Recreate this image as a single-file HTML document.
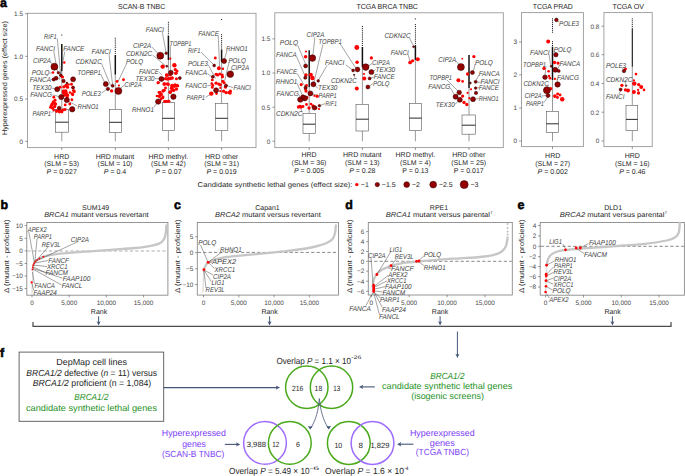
<!DOCTYPE html>
<html><head><meta charset="utf-8"><title>Figure</title>
<style>html,body{margin:0;padding:0;background:#fff;width:685px;height:476px;overflow:hidden}
svg{display:block}text{font-family:"Liberation Sans",sans-serif;text-rendering:geometricPrecision}</style></head>
<body><svg width="685" height="476" viewBox="0 0 685 476">
<rect width="685" height="476" fill="#fff"/>
<g fill="#262626">
<text x="0" y="6.66" font-size="12.4" font-weight="bold" fill="#000" stroke="#000" stroke-width="0.55">a</text>
<text transform="translate(6.8,78.1) rotate(-90)" x="0" y="0" font-size="7" text-anchor="middle" fill="#262626" textLength="114" lengthAdjust="spacingAndGlyphs">Hyperexpressed genes (effect size)</text>
<rect x="27.5" y="13.3" width="228.5" height="134.3" fill="none" stroke="#9a9a9a" stroke-width="0.9"/>
<rect x="274.8" y="12.8" width="228.5" height="134.8" fill="none" stroke="#9a9a9a" stroke-width="0.9"/>
<rect x="521.5" y="12.6" width="61.9" height="134" fill="none" stroke="#9a9a9a" stroke-width="0.9"/>
<rect x="603.9" y="12.6" width="48.3" height="134" fill="none" stroke="#9a9a9a" stroke-width="0.9"/>
<text x="118" y="9.29" font-size="7.2" textLength="47.2" lengthAdjust="spacingAndGlyphs">SCAN-B TNBC</text>
<text x="356.4" y="8.59" font-size="7.2" textLength="61.6" lengthAdjust="spacingAndGlyphs">TCGA BRCA TNBC</text>
<text x="532.7" y="8.59" font-size="7.2" textLength="40.2" lengthAdjust="spacingAndGlyphs">TCGA PRAD</text>
<text x="612.4" y="8.79" font-size="7.2" textLength="31.5" lengthAdjust="spacingAndGlyphs">TCGA OV</text>
<line x1="25.1" y1="141.3" x2="27.5" y2="141.3" stroke="#555" stroke-width="0.6"/>
<text x="23" y="143.6" font-size="6.4" text-anchor="end" fill="#4a4a4a">0</text>
<line x1="25.1" y1="99" x2="27.5" y2="99" stroke="#555" stroke-width="0.6"/>
<text x="23" y="101.3" font-size="6.4" text-anchor="end" fill="#4a4a4a">0.5</text>
<line x1="25.1" y1="56.3" x2="27.5" y2="56.3" stroke="#555" stroke-width="0.6"/>
<text x="23" y="58.6" font-size="6.4" text-anchor="end" fill="#4a4a4a">1.0</text>
<line x1="25.1" y1="13.7" x2="27.5" y2="13.7" stroke="#555" stroke-width="0.6"/>
<text x="23" y="16" font-size="6.4" text-anchor="end" fill="#4a4a4a">1.5</text>
<line x1="272.4" y1="141.2" x2="274.8" y2="141.2" stroke="#555" stroke-width="0.6"/>
<text x="270.3" y="143.5" font-size="6.4" text-anchor="end" fill="#4a4a4a">0</text>
<line x1="272.4" y1="107.2" x2="274.8" y2="107.2" stroke="#555" stroke-width="0.6"/>
<text x="270.3" y="109.5" font-size="6.4" text-anchor="end" fill="#4a4a4a">0.5</text>
<line x1="272.4" y1="73" x2="274.8" y2="73" stroke="#555" stroke-width="0.6"/>
<text x="270.3" y="75.3" font-size="6.4" text-anchor="end" fill="#4a4a4a">1.0</text>
<line x1="272.4" y1="38.9" x2="274.8" y2="38.9" stroke="#555" stroke-width="0.6"/>
<text x="270.3" y="41.2" font-size="6.4" text-anchor="end" fill="#4a4a4a">1.5</text>
<line x1="519.1" y1="141" x2="521.5" y2="141" stroke="#555" stroke-width="0.6"/>
<text x="517" y="143.3" font-size="6.4" text-anchor="end" fill="#4a4a4a">0</text>
<line x1="519.1" y1="108" x2="521.5" y2="108" stroke="#555" stroke-width="0.6"/>
<text x="517" y="110.3" font-size="6.4" text-anchor="end" fill="#4a4a4a">1</text>
<line x1="519.1" y1="74.8" x2="521.5" y2="74.8" stroke="#555" stroke-width="0.6"/>
<text x="517" y="77.1" font-size="6.4" text-anchor="end" fill="#4a4a4a">2</text>
<line x1="519.1" y1="42" x2="521.5" y2="42" stroke="#555" stroke-width="0.6"/>
<text x="517" y="44.3" font-size="6.4" text-anchor="end" fill="#4a4a4a">3</text>
<line x1="601.5" y1="141" x2="603.9" y2="141" stroke="#555" stroke-width="0.6"/>
<text x="599.4" y="143.3" font-size="6.4" text-anchor="end" fill="#4a4a4a">0</text>
<line x1="601.5" y1="112.2" x2="603.9" y2="112.2" stroke="#555" stroke-width="0.6"/>
<text x="599.4" y="114.5" font-size="6.4" text-anchor="end" fill="#4a4a4a">0.2</text>
<line x1="601.5" y1="83.5" x2="603.9" y2="83.5" stroke="#555" stroke-width="0.6"/>
<text x="599.4" y="85.8" font-size="6.4" text-anchor="end" fill="#4a4a4a">0.4</text>
<line x1="601.5" y1="54.7" x2="603.9" y2="54.7" stroke="#555" stroke-width="0.6"/>
<text x="599.4" y="57" font-size="6.4" text-anchor="end" fill="#4a4a4a">0.6</text>
<line x1="601.5" y1="26.2" x2="603.9" y2="26.2" stroke="#555" stroke-width="0.6"/>
<text x="599.4" y="28.5" font-size="6.4" text-anchor="end" fill="#4a4a4a">0.8</text>
<line x1="61.8" y1="147.6" x2="61.8" y2="150" stroke="#555" stroke-width="0.6"/>
<line x1="115.3" y1="147.6" x2="115.3" y2="150" stroke="#555" stroke-width="0.6"/>
<line x1="168.4" y1="147.6" x2="168.4" y2="150" stroke="#555" stroke-width="0.6"/>
<line x1="221.6" y1="147.6" x2="221.6" y2="150" stroke="#555" stroke-width="0.6"/>
<line x1="309.2" y1="147.6" x2="309.2" y2="150" stroke="#555" stroke-width="0.6"/>
<line x1="362.4" y1="147.6" x2="362.4" y2="150" stroke="#555" stroke-width="0.6"/>
<line x1="415.4" y1="147.6" x2="415.4" y2="150" stroke="#555" stroke-width="0.6"/>
<line x1="469" y1="147.6" x2="469" y2="150" stroke="#555" stroke-width="0.6"/>
<line x1="552.5" y1="146.6" x2="552.5" y2="149" stroke="#555" stroke-width="0.6"/>
<line x1="632.3" y1="146.6" x2="632.3" y2="149" stroke="#555" stroke-width="0.6"/>
<line x1="61.8" y1="132.2" x2="61.8" y2="141.3" stroke="#555" stroke-width="0.6"/>
<line x1="61.8" y1="71" x2="61.8" y2="109.5" stroke="#555" stroke-width="0.6"/>
<line x1="61.8" y1="44" x2="61.8" y2="71" stroke="#111" stroke-width="1.5"/>
<line x1="61.8" y1="34.6" x2="61.8" y2="35.6" stroke="#111" stroke-width="1"/>
<rect x="55.3" y="109.5" width="13.1" height="22.7" fill="#fff" stroke="#555" stroke-width="0.6"/>
<line x1="55.3" y1="122.2" x2="68.4" y2="122.2" stroke="#111" stroke-width="0.9"/>
<line x1="115.3" y1="132.3" x2="115.3" y2="141.3" stroke="#555" stroke-width="0.6"/>
<line x1="115.3" y1="74.6" x2="115.3" y2="109.4" stroke="#555" stroke-width="0.6"/>
<line x1="115.3" y1="55" x2="115.3" y2="74.6" stroke="#111" stroke-width="1.5"/>
<line x1="115.3" y1="37.7" x2="115.3" y2="38.7" stroke="#111" stroke-width="1"/>
<line x1="115.3" y1="39.6" x2="115.3" y2="40.6" stroke="#111" stroke-width="1"/>
<line x1="115.3" y1="41.5" x2="115.3" y2="42.5" stroke="#111" stroke-width="1"/>
<line x1="115.3" y1="43.4" x2="115.3" y2="44.4" stroke="#111" stroke-width="1"/>
<line x1="115.3" y1="45.3" x2="115.3" y2="46.3" stroke="#111" stroke-width="1"/>
<line x1="115.3" y1="47.2" x2="115.3" y2="48.2" stroke="#111" stroke-width="1"/>
<line x1="115.3" y1="49.1" x2="115.3" y2="50.1" stroke="#111" stroke-width="1"/>
<line x1="115.3" y1="51" x2="115.3" y2="52" stroke="#111" stroke-width="1"/>
<line x1="115.3" y1="52.9" x2="115.3" y2="53.9" stroke="#111" stroke-width="1"/>
<rect x="109.3" y="109.4" width="12.3" height="22.9" fill="#fff" stroke="#555" stroke-width="0.6"/>
<line x1="109.3" y1="122.3" x2="121.6" y2="122.3" stroke="#111" stroke-width="0.9"/>
<line x1="168.4" y1="130.5" x2="168.4" y2="141.3" stroke="#555" stroke-width="0.6"/>
<line x1="168.4" y1="60" x2="168.4" y2="102.3" stroke="#555" stroke-width="0.6"/>
<line x1="168.4" y1="35.5" x2="168.4" y2="60" stroke="#111" stroke-width="1.5"/>
<line x1="168.4" y1="21.8" x2="168.4" y2="22.8" stroke="#111" stroke-width="1"/>
<line x1="168.4" y1="23.7" x2="168.4" y2="24.7" stroke="#111" stroke-width="1"/>
<line x1="168.4" y1="25.6" x2="168.4" y2="26.6" stroke="#111" stroke-width="1"/>
<line x1="168.4" y1="27.5" x2="168.4" y2="28.5" stroke="#111" stroke-width="1"/>
<line x1="168.4" y1="29.4" x2="168.4" y2="30.4" stroke="#111" stroke-width="1"/>
<line x1="168.4" y1="31.3" x2="168.4" y2="32.3" stroke="#111" stroke-width="1"/>
<line x1="168.4" y1="33.2" x2="168.4" y2="34.2" stroke="#111" stroke-width="1"/>
<rect x="162.3" y="102.3" width="12.1" height="28.2" fill="#fff" stroke="#555" stroke-width="0.6"/>
<line x1="162.3" y1="118.3" x2="174.4" y2="118.3" stroke="#111" stroke-width="0.9"/>
<line x1="221.6" y1="130.5" x2="221.6" y2="141.3" stroke="#555" stroke-width="0.6"/>
<line x1="221.6" y1="62" x2="221.6" y2="103.4" stroke="#555" stroke-width="0.6"/>
<line x1="221.6" y1="49.4" x2="221.6" y2="62" stroke="#111" stroke-width="1.5"/>
<line x1="221.6" y1="19" x2="221.6" y2="20" stroke="#111" stroke-width="1"/>
<line x1="221.6" y1="34.2" x2="221.6" y2="35.2" stroke="#111" stroke-width="1"/>
<line x1="221.6" y1="36.1" x2="221.6" y2="37.1" stroke="#111" stroke-width="1"/>
<line x1="221.6" y1="38" x2="221.6" y2="39" stroke="#111" stroke-width="1"/>
<line x1="221.6" y1="39.9" x2="221.6" y2="40.9" stroke="#111" stroke-width="1"/>
<line x1="221.6" y1="41.8" x2="221.6" y2="42.8" stroke="#111" stroke-width="1"/>
<line x1="221.6" y1="43.7" x2="221.6" y2="44.7" stroke="#111" stroke-width="1"/>
<line x1="221.6" y1="45.6" x2="221.6" y2="46.6" stroke="#111" stroke-width="1"/>
<line x1="221.6" y1="47.5" x2="221.6" y2="48.5" stroke="#111" stroke-width="1"/>
<rect x="215.5" y="103.4" width="12.3" height="27.1" fill="#fff" stroke="#555" stroke-width="0.6"/>
<line x1="215.5" y1="118.3" x2="227.8" y2="118.3" stroke="#111" stroke-width="0.9"/>
<line x1="309.2" y1="133.4" x2="309.2" y2="141.3" stroke="#555" stroke-width="0.6"/>
<line x1="309.2" y1="87" x2="309.2" y2="113.3" stroke="#555" stroke-width="0.6"/>
<line x1="309.2" y1="50.3" x2="309.2" y2="87" stroke="#111" stroke-width="1.5"/>
<rect x="303" y="113.3" width="12.3" height="20.1" fill="#fff" stroke="#555" stroke-width="0.6"/>
<line x1="303" y1="124.2" x2="315.3" y2="124.2" stroke="#111" stroke-width="0.9"/>
<line x1="362.4" y1="131" x2="362.4" y2="141.3" stroke="#555" stroke-width="0.6"/>
<line x1="362.4" y1="67" x2="362.4" y2="104.5" stroke="#555" stroke-width="0.6"/>
<line x1="362.4" y1="47" x2="362.4" y2="67" stroke="#111" stroke-width="1.5"/>
<line x1="362.4" y1="26" x2="362.4" y2="27" stroke="#111" stroke-width="1"/>
<line x1="362.4" y1="27.9" x2="362.4" y2="28.9" stroke="#111" stroke-width="1"/>
<line x1="362.4" y1="29.8" x2="362.4" y2="30.8" stroke="#111" stroke-width="1"/>
<line x1="362.4" y1="31.7" x2="362.4" y2="32.7" stroke="#111" stroke-width="1"/>
<line x1="362.4" y1="33.6" x2="362.4" y2="34.6" stroke="#111" stroke-width="1"/>
<line x1="362.4" y1="35.5" x2="362.4" y2="36.5" stroke="#111" stroke-width="1"/>
<line x1="362.4" y1="37.4" x2="362.4" y2="38.4" stroke="#111" stroke-width="1"/>
<line x1="362.4" y1="39.3" x2="362.4" y2="40.3" stroke="#111" stroke-width="1"/>
<line x1="362.4" y1="41.2" x2="362.4" y2="42.2" stroke="#111" stroke-width="1"/>
<line x1="362.4" y1="43.1" x2="362.4" y2="44.1" stroke="#111" stroke-width="1"/>
<line x1="362.4" y1="45" x2="362.4" y2="46" stroke="#111" stroke-width="1"/>
<rect x="356" y="104.5" width="12.6" height="26.5" fill="#fff" stroke="#555" stroke-width="0.6"/>
<line x1="356" y1="119.2" x2="368.6" y2="119.2" stroke="#111" stroke-width="0.9"/>
<line x1="415.4" y1="130.5" x2="415.4" y2="141.3" stroke="#555" stroke-width="0.6"/>
<line x1="415.4" y1="60" x2="415.4" y2="103.4" stroke="#555" stroke-width="0.6"/>
<line x1="415.4" y1="45.7" x2="415.4" y2="60" stroke="#111" stroke-width="1.5"/>
<line x1="415.4" y1="18.4" x2="415.4" y2="19.4" stroke="#111" stroke-width="1"/>
<line x1="415.4" y1="24.1" x2="415.4" y2="25.1" stroke="#111" stroke-width="1"/>
<line x1="415.4" y1="26" x2="415.4" y2="27" stroke="#111" stroke-width="1"/>
<line x1="415.4" y1="27.9" x2="415.4" y2="28.9" stroke="#111" stroke-width="1"/>
<line x1="415.4" y1="29.8" x2="415.4" y2="30.8" stroke="#111" stroke-width="1"/>
<line x1="415.4" y1="31.7" x2="415.4" y2="32.7" stroke="#111" stroke-width="1"/>
<line x1="415.4" y1="33.6" x2="415.4" y2="34.6" stroke="#111" stroke-width="1"/>
<line x1="415.4" y1="35.5" x2="415.4" y2="36.5" stroke="#111" stroke-width="1"/>
<line x1="415.4" y1="37.4" x2="415.4" y2="38.4" stroke="#111" stroke-width="1"/>
<line x1="415.4" y1="39.3" x2="415.4" y2="40.3" stroke="#111" stroke-width="1"/>
<line x1="415.4" y1="41.2" x2="415.4" y2="42.2" stroke="#111" stroke-width="1"/>
<line x1="415.4" y1="43.1" x2="415.4" y2="44.1" stroke="#111" stroke-width="1"/>
<line x1="415.4" y1="45" x2="415.4" y2="46" stroke="#111" stroke-width="1"/>
<rect x="409.3" y="103.4" width="12.4" height="27.1" fill="#fff" stroke="#555" stroke-width="0.6"/>
<line x1="409.3" y1="118.1" x2="421.7" y2="118.1" stroke="#111" stroke-width="0.9"/>
<line x1="469" y1="134.2" x2="469" y2="141.3" stroke="#555" stroke-width="0.6"/>
<line x1="469" y1="88" x2="469" y2="115" stroke="#555" stroke-width="0.6"/>
<line x1="469" y1="55" x2="469" y2="88" stroke="#111" stroke-width="1.5"/>
<rect x="462" y="115" width="13.5" height="19.2" fill="#fff" stroke="#555" stroke-width="0.6"/>
<line x1="462" y1="125.2" x2="475.5" y2="125.2" stroke="#111" stroke-width="0.9"/>
<line x1="552.5" y1="132.4" x2="552.5" y2="141.3" stroke="#555" stroke-width="0.6"/>
<line x1="552.5" y1="80" x2="552.5" y2="111.3" stroke="#555" stroke-width="0.6"/>
<line x1="552.5" y1="46.7" x2="552.5" y2="80" stroke="#111" stroke-width="1.5"/>
<line x1="552.5" y1="18.4" x2="552.5" y2="19.4" stroke="#111" stroke-width="1"/>
<line x1="552.5" y1="20.3" x2="552.5" y2="21.3" stroke="#111" stroke-width="1"/>
<line x1="552.5" y1="22.2" x2="552.5" y2="23.2" stroke="#111" stroke-width="1"/>
<line x1="552.5" y1="24.1" x2="552.5" y2="25.1" stroke="#111" stroke-width="1"/>
<line x1="552.5" y1="26" x2="552.5" y2="27" stroke="#111" stroke-width="1"/>
<line x1="552.5" y1="27.9" x2="552.5" y2="28.9" stroke="#111" stroke-width="1"/>
<line x1="552.5" y1="29.8" x2="552.5" y2="30.8" stroke="#111" stroke-width="1"/>
<line x1="552.5" y1="31.7" x2="552.5" y2="32.7" stroke="#111" stroke-width="1"/>
<line x1="552.5" y1="41.2" x2="552.5" y2="42.2" stroke="#111" stroke-width="1"/>
<line x1="552.5" y1="43.1" x2="552.5" y2="44.1" stroke="#111" stroke-width="1"/>
<line x1="552.5" y1="45" x2="552.5" y2="46" stroke="#111" stroke-width="1"/>
<rect x="546.4" y="111.3" width="12.2" height="21.1" fill="#fff" stroke="#555" stroke-width="0.6"/>
<line x1="546.4" y1="123.8" x2="558.6" y2="123.8" stroke="#111" stroke-width="0.9"/>
<line x1="632.3" y1="130.5" x2="632.3" y2="141.3" stroke="#555" stroke-width="0.6"/>
<line x1="632.3" y1="66.8" x2="632.3" y2="105.5" stroke="#555" stroke-width="0.6"/>
<line x1="632.3" y1="28.9" x2="632.3" y2="66.8" stroke="#111" stroke-width="1.1"/>
<line x1="632.3" y1="18.4" x2="632.3" y2="19.4" stroke="#111" stroke-width="1"/>
<line x1="632.3" y1="20.3" x2="632.3" y2="21.3" stroke="#111" stroke-width="1"/>
<line x1="632.3" y1="22.2" x2="632.3" y2="23.2" stroke="#111" stroke-width="1"/>
<line x1="632.3" y1="24.1" x2="632.3" y2="25.1" stroke="#111" stroke-width="1"/>
<line x1="632.3" y1="26" x2="632.3" y2="27" stroke="#111" stroke-width="1"/>
<line x1="632.3" y1="27.9" x2="632.3" y2="28.9" stroke="#111" stroke-width="1"/>
<rect x="626" y="105.5" width="11.7" height="25" fill="#fff" stroke="#555" stroke-width="0.6"/>
<line x1="626" y1="119.4" x2="637.7" y2="119.4" stroke="#111" stroke-width="0.9"/>
<line x1="57.3" y1="38.5" x2="60.6" y2="74.5" stroke="#333" stroke-width="0.45"/>
<line x1="53.8" y1="51.2" x2="57.5" y2="72" stroke="#333" stroke-width="0.45"/>
<line x1="64.8" y1="51.6" x2="59.5" y2="79.5" stroke="#333" stroke-width="0.45"/>
<line x1="50.8" y1="62.3" x2="52.5" y2="64.5" stroke="#333" stroke-width="0.45"/>
<line x1="49.5" y1="73" x2="52.5" y2="73" stroke="#333" stroke-width="0.45"/>
<line x1="51" y1="79.5" x2="53.5" y2="79.6" stroke="#333" stroke-width="0.45"/>
<line x1="51.6" y1="88" x2="55" y2="88.8" stroke="#333" stroke-width="0.45"/>
<line x1="52.4" y1="94.8" x2="59" y2="96.6" stroke="#333" stroke-width="0.45"/>
<line x1="77.2" y1="106" x2="69" y2="101.5" stroke="#333" stroke-width="0.45"/>
<line x1="51.5" y1="112.6" x2="57.6" y2="108.8" stroke="#333" stroke-width="0.45"/>
<circle cx="64.3" cy="62.5" r="1.21" fill="#ff0000"/>
<circle cx="53" cy="72.5" r="1.32" fill="#ff0000"/>
<circle cx="61.9" cy="76.6" r="1.32" fill="#ff0000"/>
<circle cx="53.8" cy="79.2" r="1.65" fill="#ff0000"/>
<circle cx="61" cy="75.4" r="1.32" fill="#ff0000"/>
<circle cx="62.7" cy="77.1" r="1.43" fill="#ff0000"/>
<circle cx="63.5" cy="81.1" r="1.65" fill="#ff0000"/>
<circle cx="71.5" cy="84.3" r="1.43" fill="#ff0000"/>
<circle cx="60.1" cy="87.2" r="1.43" fill="#ff0000"/>
<circle cx="63.9" cy="86.8" r="1.65" fill="#ff0000"/>
<circle cx="66" cy="85.5" r="1.65" fill="#ff0000"/>
<circle cx="67.5" cy="87.2" r="1.65" fill="#ff0000"/>
<circle cx="72.8" cy="87.6" r="1.43" fill="#ff0000"/>
<circle cx="73.6" cy="90.6" r="1.65" fill="#ff0000"/>
<circle cx="74.4" cy="91.8" r="1.43" fill="#ff0000"/>
<circle cx="72.3" cy="93.9" r="1.65" fill="#ff0000"/>
<circle cx="72.8" cy="94.8" r="1.43" fill="#ff0000"/>
<circle cx="63.5" cy="91.4" r="1.87" fill="#ff0000"/>
<circle cx="65.6" cy="91" r="1.87" fill="#ff0000"/>
<circle cx="66" cy="93.1" r="1.87" fill="#ff0000"/>
<circle cx="66.9" cy="94.8" r="1.65" fill="#ff0000"/>
<circle cx="63.5" cy="93.1" r="1.65" fill="#ff0000"/>
<circle cx="64.8" cy="95.2" r="1.65" fill="#ff0000"/>
<circle cx="67.7" cy="95.2" r="1.43" fill="#ff0000"/>
<circle cx="67.3" cy="96.9" r="1.43" fill="#ff0000"/>
<circle cx="53.8" cy="97.3" r="1.43" fill="#ff0000"/>
<circle cx="55.1" cy="100.2" r="1.43" fill="#ff0000"/>
<circle cx="53.4" cy="101.9" r="1.65" fill="#ff0000"/>
<circle cx="52.2" cy="104" r="1.65" fill="#ff0000"/>
<circle cx="51.3" cy="105.7" r="1.65" fill="#ff0000"/>
<circle cx="50.5" cy="107.4" r="1.43" fill="#ff0000"/>
<circle cx="54.3" cy="103.2" r="1.65" fill="#ff0000"/>
<circle cx="55.5" cy="104" r="1.65" fill="#ff0000"/>
<circle cx="54.7" cy="106.5" r="1.65" fill="#ff0000"/>
<circle cx="52.6" cy="108.2" r="1.43" fill="#ff0000"/>
<circle cx="57.6" cy="110.3" r="1.65" fill="#ff0000"/>
<circle cx="60.6" cy="110.8" r="1.65" fill="#ff0000"/>
<circle cx="63.1" cy="109.9" r="1.65" fill="#ff0000"/>
<circle cx="65.2" cy="109.5" r="1.43" fill="#ff0000"/>
<circle cx="65.2" cy="104.9" r="1.43" fill="#ff0000"/>
<circle cx="69.8" cy="104" r="1.43" fill="#ff0000"/>
<circle cx="71.9" cy="99.8" r="1.43" fill="#ff0000"/>
<circle cx="59.3" cy="112" r="1.43" fill="#ff0000"/>
<circle cx="61.8" cy="112" r="1.43" fill="#ff0000"/>
<circle cx="56.5" cy="111.5" r="1.43" fill="#ff0000"/>
<circle cx="53.7" cy="110" r="1.32" fill="#ff0000"/>
<circle cx="68.5" cy="84.5" r="1.32" fill="#ff0000"/>
<circle cx="70" cy="92.5" r="1.32" fill="#ff0000"/>
<circle cx="54.4" cy="66.7" r="3.5" fill="#940000" stroke="#2a0000" stroke-width="0.5"/>
<circle cx="58.4" cy="72.7" r="1.3" fill="#940000" stroke="#2a0000" stroke-width="0.5"/>
<circle cx="60.8" cy="75.2" r="1.3" fill="#940000" stroke="#2a0000" stroke-width="0.5"/>
<circle cx="56.1" cy="78.2" r="2" fill="#940000" stroke="#2a0000" stroke-width="0.5"/>
<circle cx="53.7" cy="79.6" r="1.5" fill="#940000" stroke="#2a0000" stroke-width="0.5"/>
<circle cx="63.5" cy="80.9" r="1.7" fill="#940000" stroke="#2a0000" stroke-width="0.5"/>
<circle cx="73.1" cy="79.3" r="2.5" fill="#940000" stroke="#2a0000" stroke-width="0.5"/>
<circle cx="57.2" cy="89.2" r="2.5" fill="#940000" stroke="#2a0000" stroke-width="0.5"/>
<circle cx="73.1" cy="87.5" r="1.5" fill="#940000" stroke="#2a0000" stroke-width="0.5"/>
<circle cx="61.3" cy="97" r="2.6" fill="#940000" stroke="#2a0000" stroke-width="0.5"/>
<circle cx="66.8" cy="100" r="2.6" fill="#940000" stroke="#2a0000" stroke-width="0.5"/>
<circle cx="72.2" cy="109.3" r="2.7" fill="#940000" stroke="#2a0000" stroke-width="0.5"/>
<circle cx="59.2" cy="108" r="1.8" fill="#940000" stroke="#2a0000" stroke-width="0.5"/>
<circle cx="66.9" cy="83" r="1" fill="#940000" stroke="#2a0000" stroke-width="0.5"/>
<text x="44.1" y="38.86" font-size="7.1" font-style="italic" fill="#3a3a3a" textLength="12.6" lengthAdjust="spacingAndGlyphs">RIF1</text>
<text x="35.9" y="51.16" font-size="7.1" font-style="italic" fill="#3a3a3a" textLength="19.1" lengthAdjust="spacingAndGlyphs">FANCI</text>
<text x="63.2" y="51.16" font-size="7.1" font-style="italic" fill="#3a3a3a" textLength="21.2" lengthAdjust="spacingAndGlyphs">FANCE</text>
<text x="32.9" y="63.36" font-size="7.1" font-style="italic" fill="#3a3a3a" textLength="18.1" lengthAdjust="spacingAndGlyphs">CIP2A</text>
<text x="31.8" y="75.06" font-size="7.1" font-style="italic" fill="#3a3a3a" textLength="17.5" lengthAdjust="spacingAndGlyphs">POLQ</text>
<text x="29.8" y="81.86" font-size="7.1" font-style="italic" fill="#3a3a3a" textLength="21.1" lengthAdjust="spacingAndGlyphs">FANCA</text>
<text x="32.5" y="89.96" font-size="7.1" font-style="italic" fill="#3a3a3a" textLength="18.8" lengthAdjust="spacingAndGlyphs">TEX30</text>
<text x="30.2" y="96.86" font-size="7.1" font-style="italic" fill="#3a3a3a" textLength="21.8" lengthAdjust="spacingAndGlyphs">FANCG</text>
<text x="77.6" y="109.16" font-size="7.1" font-style="italic" fill="#3a3a3a" textLength="21.1" lengthAdjust="spacingAndGlyphs">RHNO1</text>
<text x="32.5" y="115.96" font-size="7.1" font-style="italic" fill="#3a3a3a" textLength="18.5" lengthAdjust="spacingAndGlyphs">PARP1</text>
<line x1="109" y1="54.2" x2="112.5" y2="84.3" stroke="#333" stroke-width="0.45"/>
<line x1="101.5" y1="63.5" x2="110.5" y2="85.3" stroke="#333" stroke-width="0.45"/>
<line x1="100.5" y1="74" x2="104.8" y2="82.6" stroke="#333" stroke-width="0.45"/>
<line x1="101.5" y1="93" x2="106.4" y2="89.6" stroke="#333" stroke-width="0.45"/>
<line x1="124" y1="85.3" x2="121" y2="88" stroke="#333" stroke-width="0.45"/>
<line x1="126.6" y1="63.6" x2="118.3" y2="81" stroke="#333" stroke-width="0.45"/>
<circle cx="117.1" cy="81.4" r="1.43" fill="#ff0000"/>
<circle cx="123.5" cy="79.7" r="1.43" fill="#ff0000"/>
<circle cx="111.6" cy="90.9" r="1.65" fill="#ff0000"/>
<circle cx="118.9" cy="85.5" r="1.1" fill="#ff0000"/>
<circle cx="116.7" cy="89.6" r="1.32" fill="#ff0000"/>
<circle cx="105.8" cy="84.1" r="2.5" fill="#940000" stroke="#2a0000" stroke-width="0.5"/>
<circle cx="112.6" cy="85.8" r="1.5" fill="#940000" stroke="#2a0000" stroke-width="0.5"/>
<circle cx="107.9" cy="88.9" r="1.7" fill="#940000" stroke="#2a0000" stroke-width="0.5"/>
<circle cx="118.4" cy="90.9" r="3.5" fill="#940000" stroke="#2a0000" stroke-width="0.5"/>
<text x="91.6" y="54.26" font-size="7.1" font-style="italic" fill="#3a3a3a" textLength="19.3" lengthAdjust="spacingAndGlyphs">FANCI</text>
<text x="75.5" y="63.56" font-size="7.1" font-style="italic" fill="#3a3a3a" textLength="26.3" lengthAdjust="spacingAndGlyphs">CDKN2C</text>
<text x="77.6" y="75.06" font-size="7.1" font-style="italic" fill="#3a3a3a" textLength="23.2" lengthAdjust="spacingAndGlyphs">TOPBP1</text>
<text x="81.7" y="96.06" font-size="7.1" font-style="italic" fill="#3a3a3a" textLength="19.1" lengthAdjust="spacingAndGlyphs">POLE3</text>
<text x="126" y="63.56" font-size="7.1" font-style="italic" fill="#3a3a3a" textLength="17" lengthAdjust="spacingAndGlyphs">POLQ</text>
<text x="124.3" y="87.36" font-size="7.1" font-style="italic" fill="#3a3a3a" textLength="17.4" lengthAdjust="spacingAndGlyphs">CIP2A</text>
<line x1="162.2" y1="31.6" x2="166" y2="52" stroke="#333" stroke-width="0.45"/>
<line x1="151.8" y1="47" x2="157.8" y2="53.2" stroke="#333" stroke-width="0.45"/>
<line x1="152.6" y1="55" x2="165.6" y2="65.8" stroke="#333" stroke-width="0.45"/>
<line x1="170.3" y1="45.6" x2="170.6" y2="70.2" stroke="#333" stroke-width="0.45"/>
<line x1="159" y1="72.2" x2="161.8" y2="75" stroke="#333" stroke-width="0.45"/>
<line x1="155" y1="78.6" x2="158.8" y2="78.8" stroke="#333" stroke-width="0.45"/>
<line x1="154" y1="107" x2="156.6" y2="103.6" stroke="#333" stroke-width="0.45"/>
<circle cx="170.3" cy="58.7" r="1.1" fill="#ff0000"/>
<circle cx="162.7" cy="66.6" r="2.2" fill="#ff0000"/>
<circle cx="174.4" cy="65.2" r="2.2" fill="#ff0000"/>
<circle cx="175.3" cy="69.6" r="1.65" fill="#ff0000"/>
<circle cx="176.1" cy="73" r="1.65" fill="#ff0000"/>
<circle cx="166.8" cy="75" r="1.87" fill="#ff0000"/>
<circle cx="167.5" cy="79" r="1.65" fill="#ff0000"/>
<circle cx="170.5" cy="78.5" r="1.65" fill="#ff0000"/>
<circle cx="158.5" cy="82.5" r="1.32" fill="#ff0000"/>
<circle cx="164.5" cy="84" r="1.65" fill="#ff0000"/>
<circle cx="172" cy="86" r="1.87" fill="#ff0000"/>
<circle cx="175" cy="85" r="1.65" fill="#ff0000"/>
<circle cx="176.5" cy="89" r="1.65" fill="#ff0000"/>
<circle cx="172.5" cy="90" r="1.87" fill="#ff0000"/>
<circle cx="170" cy="92" r="1.65" fill="#ff0000"/>
<circle cx="163" cy="91" r="1.65" fill="#ff0000"/>
<circle cx="159" cy="92.5" r="1.43" fill="#ff0000"/>
<circle cx="160" cy="95.5" r="1.65" fill="#ff0000"/>
<circle cx="163" cy="97" r="1.43" fill="#ff0000"/>
<circle cx="161" cy="99" r="1.43" fill="#ff0000"/>
<circle cx="164.5" cy="101.5" r="1.43" fill="#ff0000"/>
<circle cx="167" cy="101.5" r="1.43" fill="#ff0000"/>
<circle cx="178" cy="86" r="1.32" fill="#ff0000"/>
<circle cx="157" cy="96" r="1.32" fill="#ff0000"/>
<circle cx="165.5" cy="88" r="1.43" fill="#ff0000"/>
<circle cx="168.5" cy="84.5" r="1.43" fill="#ff0000"/>
<circle cx="166.8" cy="75.2" r="1.65" fill="#ff0000"/>
<circle cx="170.3" cy="74.8" r="1.65" fill="#ff0000"/>
<circle cx="165.5" cy="78.7" r="1.65" fill="#ff0000"/>
<circle cx="168.9" cy="78.7" r="1.65" fill="#ff0000"/>
<circle cx="172.3" cy="78" r="1.65" fill="#ff0000"/>
<circle cx="158" cy="82.7" r="1.54" fill="#ff0000"/>
<circle cx="164.1" cy="84.1" r="1.76" fill="#ff0000"/>
<circle cx="167.5" cy="84.1" r="1.76" fill="#ff0000"/>
<circle cx="172.3" cy="85.5" r="1.76" fill="#ff0000"/>
<circle cx="174.4" cy="86.2" r="1.76" fill="#ff0000"/>
<circle cx="177.1" cy="85.5" r="1.65" fill="#ff0000"/>
<circle cx="171.6" cy="88.2" r="1.76" fill="#ff0000"/>
<circle cx="173.7" cy="90.3" r="1.76" fill="#ff0000"/>
<circle cx="164.1" cy="90.3" r="1.65" fill="#ff0000"/>
<circle cx="160" cy="92.3" r="1.54" fill="#ff0000"/>
<circle cx="161.4" cy="94.4" r="1.54" fill="#ff0000"/>
<circle cx="170.3" cy="92.3" r="1.65" fill="#ff0000"/>
<circle cx="159.3" cy="96.4" r="1.54" fill="#ff0000"/>
<circle cx="162.7" cy="97.8" r="1.54" fill="#ff0000"/>
<circle cx="165.5" cy="101.2" r="1.54" fill="#ff0000"/>
<circle cx="168.9" cy="101.2" r="1.54" fill="#ff0000"/>
<circle cx="176.4" cy="78.7" r="1.54" fill="#ff0000"/>
<circle cx="175.7" cy="73.2" r="1.54" fill="#ff0000"/>
<circle cx="177.1" cy="71.1" r="1.43" fill="#ff0000"/>
<circle cx="160.3" cy="55.7" r="3.5" fill="#940000" stroke="#2a0000" stroke-width="0.5"/>
<circle cx="166.2" cy="53.2" r="1.3" fill="#940000" stroke="#2a0000" stroke-width="0.5"/>
<circle cx="166.8" cy="66.2" r="1" fill="#940000" stroke="#2a0000" stroke-width="0.5"/>
<circle cx="170.9" cy="72.7" r="2.4" fill="#940000" stroke="#2a0000" stroke-width="0.5"/>
<circle cx="179.8" cy="78.1" r="1.5" fill="#940000" stroke="#2a0000" stroke-width="0.5"/>
<circle cx="161.4" cy="78.9" r="2.5" fill="#940000" stroke="#2a0000" stroke-width="0.5"/>
<circle cx="173.4" cy="96.7" r="2.7" fill="#940000" stroke="#2a0000" stroke-width="0.5"/>
<circle cx="158.2" cy="101.6" r="2.7" fill="#940000" stroke="#2a0000" stroke-width="0.5"/>
<text x="145.8" y="31.86" font-size="7.1" font-style="italic" fill="#3a3a3a" textLength="18.3" lengthAdjust="spacingAndGlyphs">FANCI</text>
<text x="133" y="47.86" font-size="7.1" font-style="italic" fill="#3a3a3a" textLength="18.2" lengthAdjust="spacingAndGlyphs">CIP2A</text>
<text x="169.6" y="45.56" font-size="7.1" font-style="italic" fill="#3a3a3a" textLength="21.8" lengthAdjust="spacingAndGlyphs">TOPBP1</text>
<text x="126" y="55.76" font-size="7.1" font-style="italic" fill="#3a3a3a" textLength="26.2" lengthAdjust="spacingAndGlyphs">CDKN2C</text>
<text x="138.9" y="74.16" font-size="7.1" font-style="italic" fill="#3a3a3a" textLength="19.8" lengthAdjust="spacingAndGlyphs">FANCE</text>
<text x="135.5" y="80.96" font-size="7.1" font-style="italic" fill="#3a3a3a" textLength="19.1" lengthAdjust="spacingAndGlyphs">TEX30</text>
<text x="132.1" y="111.96" font-size="7.1" font-style="italic" fill="#3a3a3a" textLength="21.8" lengthAdjust="spacingAndGlyphs">RHNO1</text>
<line x1="218.2" y1="35.6" x2="219.6" y2="66.6" stroke="#333" stroke-width="0.45"/>
<line x1="227" y1="51" x2="224.6" y2="58.6" stroke="#333" stroke-width="0.45"/>
<line x1="201" y1="52.2" x2="213.5" y2="64.5" stroke="#333" stroke-width="0.45"/>
<line x1="229" y1="62.4" x2="224.6" y2="81" stroke="#333" stroke-width="0.45"/>
<line x1="208.2" y1="64.8" x2="215.6" y2="78.5" stroke="#333" stroke-width="0.45"/>
<line x1="231.5" y1="69.6" x2="230.5" y2="72" stroke="#333" stroke-width="0.45"/>
<line x1="207.6" y1="73.6" x2="211.6" y2="76.6" stroke="#333" stroke-width="0.45"/>
<line x1="207.6" y1="85.6" x2="211" y2="85.6" stroke="#333" stroke-width="0.45"/>
<line x1="233" y1="87.6" x2="226.6" y2="85.6" stroke="#333" stroke-width="0.45"/>
<line x1="205.6" y1="97.2" x2="210" y2="94.6" stroke="#333" stroke-width="0.45"/>
<circle cx="218.9" cy="68.3" r="1.98" fill="#ff0000"/>
<circle cx="222.9" cy="68.8" r="1.21" fill="#ff0000"/>
<circle cx="216.1" cy="74.2" r="1.54" fill="#ff0000"/>
<circle cx="217.5" cy="74.9" r="1.54" fill="#ff0000"/>
<circle cx="219.9" cy="74" r="1.54" fill="#ff0000"/>
<circle cx="222.2" cy="75.1" r="1.54" fill="#ff0000"/>
<circle cx="222.5" cy="76.8" r="1.54" fill="#ff0000"/>
<circle cx="212.3" cy="79.9" r="1.43" fill="#ff0000"/>
<circle cx="211.8" cy="83.6" r="1.43" fill="#ff0000"/>
<circle cx="212.8" cy="85.5" r="1.43" fill="#ff0000"/>
<circle cx="212.3" cy="87.4" r="1.43" fill="#ff0000"/>
<circle cx="216.1" cy="83.2" r="1.65" fill="#ff0000"/>
<circle cx="218.9" cy="84.1" r="1.65" fill="#ff0000"/>
<circle cx="220.3" cy="84.8" r="1.65" fill="#ff0000"/>
<circle cx="222.7" cy="81.3" r="1.54" fill="#ff0000"/>
<circle cx="224.1" cy="82.7" r="1.54" fill="#ff0000"/>
<circle cx="225.5" cy="87" r="1.76" fill="#ff0000"/>
<circle cx="220.3" cy="87.9" r="1.1" fill="#ff0000"/>
<circle cx="220.3" cy="91.2" r="1.1" fill="#ff0000"/>
<circle cx="223.6" cy="91.2" r="1.65" fill="#ff0000"/>
<circle cx="226" cy="92.6" r="1.65" fill="#ff0000"/>
<circle cx="228.8" cy="92.6" r="1.65" fill="#ff0000"/>
<circle cx="230.3" cy="91.2" r="1.65" fill="#ff0000"/>
<circle cx="230.1" cy="93.1" r="1.65" fill="#ff0000"/>
<circle cx="211.3" cy="93.6" r="2.2" fill="#ff0000"/>
<circle cx="216.5" cy="93.6" r="1.32" fill="#ff0000"/>
<circle cx="215.3" cy="58" r="1.43" fill="#ff0000"/>
<circle cx="214.2" cy="65.5" r="1.4" fill="#940000" stroke="#2a0000" stroke-width="0.5"/>
<circle cx="224.1" cy="61" r="2.5" fill="#940000" stroke="#2a0000" stroke-width="0.5"/>
<circle cx="230.3" cy="74.2" r="3.3" fill="#940000" stroke="#2a0000" stroke-width="0.5"/>
<circle cx="212.8" cy="76.8" r="1.5" fill="#940000" stroke="#2a0000" stroke-width="0.5"/>
<circle cx="226" cy="85.5" r="1.5" fill="#940000" stroke="#2a0000" stroke-width="0.5"/>
<circle cx="216.1" cy="90.3" r="2.5" fill="#940000" stroke="#2a0000" stroke-width="0.5"/>
<text x="198.2" y="35.76" font-size="7.1" font-style="italic" fill="#3a3a3a" textLength="20.7" lengthAdjust="spacingAndGlyphs">FANCE</text>
<text x="226" y="51.26" font-size="7.1" font-style="italic" fill="#3a3a3a" textLength="21.8" lengthAdjust="spacingAndGlyphs">RHNO1</text>
<text x="188" y="53.36" font-size="7.1" font-style="italic" fill="#3a3a3a" textLength="12.3" lengthAdjust="spacingAndGlyphs">RIF1</text>
<text x="228.4" y="62.86" font-size="7.1" font-style="italic" fill="#3a3a3a" textLength="17.4" lengthAdjust="spacingAndGlyphs">POLQ</text>
<text x="188" y="66.06" font-size="7.1" font-style="italic" fill="#3a3a3a" textLength="19.8" lengthAdjust="spacingAndGlyphs">POLE3</text>
<text x="231.1" y="70.36" font-size="7.1" font-style="italic" fill="#3a3a3a" textLength="18.1" lengthAdjust="spacingAndGlyphs">CIP2A</text>
<text x="185.3" y="74.86" font-size="7.1" font-style="italic" fill="#3a3a3a" textLength="21.8" lengthAdjust="spacingAndGlyphs">FANCA</text>
<text x="185.3" y="88.06" font-size="7.1" font-style="italic" fill="#3a3a3a" textLength="21.8" lengthAdjust="spacingAndGlyphs">FANCG</text>
<text x="233.6" y="90.16" font-size="7.1" font-style="italic" fill="#3a3a3a" textLength="17.4" lengthAdjust="spacingAndGlyphs">FANCI</text>
<text x="186.6" y="99.96" font-size="7.1" font-style="italic" fill="#3a3a3a" textLength="18.4" lengthAdjust="spacingAndGlyphs">PARP1</text>
<line x1="314.9" y1="37.4" x2="312.9" y2="55" stroke="#333" stroke-width="0.45"/>
<line x1="297.6" y1="45" x2="305.4" y2="63.5" stroke="#333" stroke-width="0.45"/>
<line x1="322.9" y1="44.4" x2="314" y2="82" stroke="#333" stroke-width="0.45"/>
<line x1="296.6" y1="56.6" x2="305" y2="76" stroke="#333" stroke-width="0.45"/>
<line x1="327.1" y1="65.3" x2="318.6" y2="80" stroke="#333" stroke-width="0.45"/>
<line x1="297" y1="73.4" x2="304.8" y2="86" stroke="#333" stroke-width="0.45"/>
<line x1="297" y1="83.4" x2="302.6" y2="95.6" stroke="#333" stroke-width="0.45"/>
<line x1="317.8" y1="88" x2="315.4" y2="86.2" stroke="#333" stroke-width="0.45"/>
<line x1="299" y1="94.6" x2="300.2" y2="97.4" stroke="#333" stroke-width="0.45"/>
<line x1="318.5" y1="95.6" x2="312.8" y2="94" stroke="#333" stroke-width="0.45"/>
<line x1="325" y1="103.6" x2="320.6" y2="105.4" stroke="#333" stroke-width="0.45"/>
<line x1="302.2" y1="112" x2="300.8" y2="108.4" stroke="#333" stroke-width="0.45"/>
<circle cx="306" cy="51.5" r="1.1" fill="#ff0000"/>
<circle cx="305.6" cy="56.7" r="1.76" fill="#ff0000"/>
<circle cx="306" cy="75.1" r="1.76" fill="#ff0000"/>
<circle cx="310.9" cy="74.8" r="1.98" fill="#ff0000"/>
<circle cx="312.4" cy="78" r="2.2" fill="#ff0000"/>
<circle cx="301.2" cy="84.6" r="1.54" fill="#ff0000"/>
<circle cx="306" cy="91" r="1.65" fill="#ff0000"/>
<circle cx="317.1" cy="96.2" r="1.65" fill="#ff0000"/>
<circle cx="314.4" cy="95.8" r="1.1" fill="#ff0000"/>
<circle cx="298.5" cy="107" r="1.65" fill="#ff0000"/>
<circle cx="301" cy="107" r="1.65" fill="#ff0000"/>
<circle cx="303" cy="106.5" r="1.43" fill="#ff0000"/>
<circle cx="306.5" cy="104.5" r="1.43" fill="#ff0000"/>
<circle cx="309" cy="108" r="1.65" fill="#ff0000"/>
<circle cx="313" cy="106" r="1.65" fill="#ff0000"/>
<circle cx="316" cy="108" r="1.43" fill="#ff0000"/>
<circle cx="319" cy="109" r="1.1" fill="#ff0000"/>
<circle cx="300" cy="106" r="1.32" fill="#ff0000"/>
<circle cx="311" cy="104" r="1.32" fill="#ff0000"/>
<circle cx="306.5" cy="85.5" r="1.43" fill="#ff0000"/>
<circle cx="305.5" cy="88.7" r="1.54" fill="#ff0000"/>
<circle cx="307" cy="97.5" r="1.43" fill="#ff0000"/>
<circle cx="312.4" cy="58.1" r="3.3" fill="#940000" stroke="#2a0000" stroke-width="0.5"/>
<circle cx="305.6" cy="65.9" r="2" fill="#940000" stroke="#2a0000" stroke-width="0.5"/>
<circle cx="305.3" cy="77.7" r="1.6" fill="#940000" stroke="#2a0000" stroke-width="0.5"/>
<circle cx="318.2" cy="80.9" r="1.3" fill="#940000" stroke="#2a0000" stroke-width="0.5"/>
<circle cx="313.4" cy="84.3" r="2.5" fill="#940000" stroke="#2a0000" stroke-width="0.5"/>
<circle cx="305.6" cy="87.6" r="1.6" fill="#940000" stroke="#2a0000" stroke-width="0.5"/>
<circle cx="310.4" cy="93.4" r="2.5" fill="#940000" stroke="#2a0000" stroke-width="0.5"/>
<circle cx="300.3" cy="99.6" r="2.7" fill="#940000" stroke="#2a0000" stroke-width="0.5"/>
<circle cx="304.8" cy="98.2" r="2.7" fill="#940000" stroke="#2a0000" stroke-width="0.5"/>
<circle cx="302.8" cy="96.8" r="2" fill="#940000" stroke="#2a0000" stroke-width="0.5"/>
<circle cx="314.4" cy="107.8" r="2.3" fill="#940000" stroke="#2a0000" stroke-width="0.5"/>
<circle cx="319.4" cy="105.7" r="1.3" fill="#940000" stroke="#2a0000" stroke-width="0.5"/>
<text x="306.6" y="36.56" font-size="7.1" font-style="italic" fill="#3a3a3a" textLength="17.8" lengthAdjust="spacingAndGlyphs">CIP2A</text>
<text x="279.8" y="45.26" font-size="7.1" font-style="italic" fill="#3a3a3a" textLength="18.2" lengthAdjust="spacingAndGlyphs">POLQ</text>
<text x="318.5" y="44.06" font-size="7.1" font-style="italic" fill="#3a3a3a" textLength="23.3" lengthAdjust="spacingAndGlyphs">TOPBP1</text>
<text x="276.1" y="56.96" font-size="7.1" font-style="italic" fill="#3a3a3a" textLength="20.5" lengthAdjust="spacingAndGlyphs">FANCA</text>
<text x="325.1" y="65.16" font-size="7.1" font-style="italic" fill="#3a3a3a" textLength="19.2" lengthAdjust="spacingAndGlyphs">FANCI</text>
<text x="276.6" y="73.96" font-size="7.1" font-style="italic" fill="#3a3a3a" textLength="20.4" lengthAdjust="spacingAndGlyphs">FANCE</text>
<text x="275.7" y="83.76" font-size="7.1" font-style="italic" fill="#3a3a3a" textLength="21.6" lengthAdjust="spacingAndGlyphs">RHNO1</text>
<text x="318" y="90.36" font-size="7.1" font-style="italic" fill="#3a3a3a" textLength="19.4" lengthAdjust="spacingAndGlyphs">TEX30</text>
<text x="276.6" y="96.36" font-size="7.1" font-style="italic" fill="#3a3a3a" textLength="22.3" lengthAdjust="spacingAndGlyphs">FANCG</text>
<text x="318.5" y="97.86" font-size="7.1" font-style="italic" fill="#3a3a3a" textLength="18.3" lengthAdjust="spacingAndGlyphs">PARP1</text>
<text x="325.3" y="105.96" font-size="7.1" font-style="italic" fill="#3a3a3a" textLength="11.6" lengthAdjust="spacingAndGlyphs">RIF1</text>
<text x="276.1" y="116.46" font-size="7.1" font-style="italic" fill="#3a3a3a" textLength="26.4" lengthAdjust="spacingAndGlyphs">CDKN2C</text>
<line x1="372" y1="63.6" x2="368.6" y2="66" stroke="#333" stroke-width="0.45"/>
<line x1="375.5" y1="69.6" x2="374" y2="71" stroke="#333" stroke-width="0.45"/>
<line x1="373.8" y1="77" x2="371" y2="78.2" stroke="#333" stroke-width="0.45"/>
<line x1="372.9" y1="83.6" x2="369.6" y2="86" stroke="#333" stroke-width="0.45"/>
<line x1="339.9" y1="43.4" x2="356" y2="68.4" stroke="#333" stroke-width="0.45"/>
<line x1="345.7" y1="64.8" x2="352.6" y2="69.9" stroke="#333" stroke-width="0.45"/>
<line x1="355" y1="77.6" x2="354.1" y2="75.5" stroke="#333" stroke-width="0.45"/>
<circle cx="356.8" cy="47.5" r="2.42" fill="#ff0000"/>
<circle cx="371.4" cy="57.9" r="1.65" fill="#ff0000"/>
<circle cx="357.1" cy="62.2" r="1.76" fill="#ff0000"/>
<circle cx="364.3" cy="78.4" r="1.98" fill="#ff0000"/>
<circle cx="356.8" cy="88.5" r="1.98" fill="#ff0000"/>
<circle cx="364" cy="74" r="1.1" fill="#ff0000"/>
<circle cx="353.1" cy="70.5" r="1.4" fill="#940000" stroke="#2a0000" stroke-width="0.5"/>
<circle cx="357.5" cy="69.5" r="2.4" fill="#940000" stroke="#2a0000" stroke-width="0.5"/>
<circle cx="365.7" cy="67.1" r="3.3" fill="#940000" stroke="#2a0000" stroke-width="0.5"/>
<circle cx="371.4" cy="72.1" r="2.5" fill="#940000" stroke="#2a0000" stroke-width="0.5"/>
<circle cx="369.6" cy="78.4" r="1.5" fill="#940000" stroke="#2a0000" stroke-width="0.5"/>
<circle cx="367.9" cy="87" r="2" fill="#940000" stroke="#2a0000" stroke-width="0.5"/>
<circle cx="354.1" cy="74.8" r="0.7" fill="#940000" stroke="#2a0000" stroke-width="0.5"/>
<text x="331" y="82.76" font-size="7.1" font-style="italic" fill="#3a3a3a" textLength="25.8" lengthAdjust="spacingAndGlyphs">CDKN2C</text>
<text x="372" y="65.46" font-size="7.1" font-style="italic" fill="#3a3a3a" textLength="17.8" lengthAdjust="spacingAndGlyphs">CIP2A</text>
<text x="375.5" y="71.66" font-size="7.1" font-style="italic" fill="#3a3a3a" textLength="19.7" lengthAdjust="spacingAndGlyphs">TEX30</text>
<text x="373.8" y="79.16" font-size="7.1" font-style="italic" fill="#3a3a3a" textLength="20.8" lengthAdjust="spacingAndGlyphs">FANCE</text>
<text x="372.9" y="85.76" font-size="7.1" font-style="italic" fill="#3a3a3a" textLength="16.6" lengthAdjust="spacingAndGlyphs">POLQ</text>
<line x1="409.5" y1="38" x2="413.2" y2="45.5" stroke="#333" stroke-width="0.45"/>
<line x1="408" y1="54.5" x2="410" y2="61" stroke="#333" stroke-width="0.45"/>
<circle cx="410.1" cy="62.5" r="1.87" fill="#ff0000"/>
<circle cx="412.6" cy="60.8" r="1.65" fill="#ff0000"/>
<circle cx="417.8" cy="59.3" r="1.98" fill="#ff0000"/>
<circle cx="413.6" cy="46.7" r="1" fill="#940000" stroke="#2a0000" stroke-width="0.5"/>
<text x="384.5" y="38.06" font-size="7.1" font-style="italic" fill="#3a3a3a" textLength="26" lengthAdjust="spacingAndGlyphs">CDKN2C</text>
<text x="390.7" y="54.66" font-size="7.1" font-style="italic" fill="#3a3a3a" textLength="17.9" lengthAdjust="spacingAndGlyphs">FANCI</text>
<line x1="456" y1="61" x2="459" y2="64.5" stroke="#333" stroke-width="0.45"/>
<line x1="475" y1="64" x2="473.5" y2="71" stroke="#333" stroke-width="0.45"/>
<line x1="479" y1="75" x2="476" y2="80.5" stroke="#333" stroke-width="0.45"/>
<line x1="480.5" y1="82.5" x2="477" y2="82" stroke="#333" stroke-width="0.45"/>
<line x1="479" y1="87.6" x2="477" y2="88" stroke="#333" stroke-width="0.45"/>
<line x1="478.7" y1="98.6" x2="475.5" y2="99" stroke="#333" stroke-width="0.45"/>
<line x1="447" y1="80" x2="458" y2="91" stroke="#333" stroke-width="0.45"/>
<line x1="450.5" y1="88" x2="454.5" y2="95" stroke="#333" stroke-width="0.45"/>
<line x1="454.6" y1="104.5" x2="458" y2="101.5" stroke="#333" stroke-width="0.45"/>
<circle cx="473.9" cy="56.6" r="1.65" fill="#ff0000"/>
<circle cx="462.3" cy="58.7" r="0.88" fill="#ff0000"/>
<circle cx="467.6" cy="74" r="1.65" fill="#ff0000"/>
<circle cx="458.4" cy="80.3" r="1.98" fill="#ff0000"/>
<circle cx="462.6" cy="81.4" r="1.32" fill="#ff0000"/>
<circle cx="471" cy="89.3" r="1.1" fill="#ff0000"/>
<circle cx="462.6" cy="96.1" r="1.65" fill="#ff0000"/>
<circle cx="467.6" cy="92.9" r="1.1" fill="#ff0000"/>
<circle cx="464" cy="102.4" r="1.65" fill="#ff0000"/>
<circle cx="466.8" cy="104.5" r="1.65" fill="#ff0000"/>
<circle cx="469.3" cy="98.2" r="1.1" fill="#ff0000"/>
<circle cx="460.9" cy="67.1" r="3.5" fill="#940000" stroke="#2a0000" stroke-width="0.5"/>
<circle cx="472.4" cy="72.6" r="2" fill="#940000" stroke="#2a0000" stroke-width="0.5"/>
<circle cx="475.6" cy="81.8" r="1.5" fill="#940000" stroke="#2a0000" stroke-width="0.5"/>
<circle cx="470.3" cy="83" r="1" fill="#940000" stroke="#2a0000" stroke-width="0.5"/>
<circle cx="475.6" cy="88.1" r="1.3" fill="#940000" stroke="#2a0000" stroke-width="0.5"/>
<circle cx="459.2" cy="92.5" r="2.3" fill="#940000" stroke="#2a0000" stroke-width="0.5"/>
<circle cx="476" cy="92.9" r="1.7" fill="#940000" stroke="#2a0000" stroke-width="0.5"/>
<circle cx="455.6" cy="96.7" r="2.5" fill="#940000" stroke="#2a0000" stroke-width="0.5"/>
<circle cx="459.8" cy="99.8" r="2.5" fill="#940000" stroke="#2a0000" stroke-width="0.5"/>
<circle cx="473" cy="99.2" r="2.5" fill="#940000" stroke="#2a0000" stroke-width="0.5"/>
<text x="438.2" y="61.86" font-size="7.1" font-style="italic" fill="#3a3a3a" textLength="18.1" lengthAdjust="spacingAndGlyphs">CIP2A</text>
<text x="474.9" y="65.06" font-size="7.1" font-style="italic" fill="#3a3a3a" textLength="17.9" lengthAdjust="spacingAndGlyphs">POLQ</text>
<text x="478.7" y="75.56" font-size="7.1" font-style="italic" fill="#3a3a3a" textLength="21" lengthAdjust="spacingAndGlyphs">FANCA</text>
<text x="480.4" y="83.96" font-size="7.1" font-style="italic" fill="#3a3a3a" textLength="19.3" lengthAdjust="spacingAndGlyphs">FANCI</text>
<text x="478.7" y="89.76" font-size="7.1" font-style="italic" fill="#3a3a3a" textLength="20" lengthAdjust="spacingAndGlyphs">FANCE</text>
<text x="478.7" y="100.76" font-size="7.1" font-style="italic" fill="#3a3a3a" textLength="20" lengthAdjust="spacingAndGlyphs">RHNO1</text>
<text x="429.4" y="80.16" font-size="7.1" font-style="italic" fill="#3a3a3a" textLength="22.7" lengthAdjust="spacingAndGlyphs">TOPBP1</text>
<text x="428.3" y="89.16" font-size="7.1" font-style="italic" fill="#3a3a3a" textLength="22.1" lengthAdjust="spacingAndGlyphs">FANCG</text>
<text x="435.7" y="107.06" font-size="7.1" font-style="italic" fill="#3a3a3a" textLength="18.9" lengthAdjust="spacingAndGlyphs">TEX30</text>
<line x1="559" y1="22" x2="557.5" y2="21" stroke="#333" stroke-width="0.45"/>
<line x1="549" y1="54.5" x2="550.7" y2="65.5" stroke="#333" stroke-width="0.45"/>
<line x1="554" y1="51.5" x2="555.5" y2="52.5" stroke="#333" stroke-width="0.45"/>
<line x1="559.5" y1="65" x2="558" y2="68.5" stroke="#333" stroke-width="0.45"/>
<line x1="546" y1="66.5" x2="545" y2="75" stroke="#333" stroke-width="0.45"/>
<line x1="557" y1="78.5" x2="557.5" y2="81.5" stroke="#333" stroke-width="0.45"/>
<line x1="548.5" y1="84.5" x2="547" y2="87" stroke="#333" stroke-width="0.45"/>
<line x1="542" y1="96" x2="546" y2="95.5" stroke="#333" stroke-width="0.45"/>
<line x1="544" y1="102.5" x2="547.5" y2="97.5" stroke="#333" stroke-width="0.45"/>
<circle cx="548.2" cy="41.5" r="1.98" fill="#ff0000"/>
<circle cx="554.5" cy="62.5" r="1.65" fill="#ff0000"/>
<circle cx="558" cy="63.1" r="1.65" fill="#ff0000"/>
<circle cx="544" cy="68.4" r="1.65" fill="#ff0000"/>
<circle cx="548.6" cy="71.3" r="1.32" fill="#ff0000"/>
<circle cx="549" cy="76.1" r="1.32" fill="#ff0000"/>
<circle cx="550" cy="78.2" r="1.32" fill="#ff0000"/>
<circle cx="554.9" cy="78.9" r="1.1" fill="#ff0000"/>
<circle cx="550.7" cy="88.7" r="1.65" fill="#ff0000"/>
<circle cx="554.9" cy="96.1" r="1.87" fill="#ff0000"/>
<circle cx="557.6" cy="94" r="1.43" fill="#ff0000"/>
<circle cx="560.1" cy="95" r="1.43" fill="#ff0000"/>
<circle cx="562.2" cy="99.2" r="2.2" fill="#ff0000"/>
<circle cx="557.5" cy="97.5" r="1.43" fill="#ff0000"/>
<circle cx="556.4" cy="19.9" r="1.8" fill="#940000" stroke="#2a0000" stroke-width="0.5"/>
<circle cx="555.9" cy="54.7" r="2.2" fill="#940000" stroke="#2a0000" stroke-width="0.5"/>
<circle cx="551.1" cy="66.3" r="1" fill="#940000" stroke="#2a0000" stroke-width="0.5"/>
<circle cx="555.3" cy="69.8" r="2.5" fill="#940000" stroke="#2a0000" stroke-width="0.5"/>
<circle cx="558.7" cy="70.9" r="1.5" fill="#940000" stroke="#2a0000" stroke-width="0.5"/>
<circle cx="545" cy="77.2" r="2.3" fill="#940000" stroke="#2a0000" stroke-width="0.5"/>
<circle cx="557.6" cy="84.5" r="2.7" fill="#940000" stroke="#2a0000" stroke-width="0.5"/>
<circle cx="546.9" cy="90.2" r="3.5" fill="#940000" stroke="#2a0000" stroke-width="0.5"/>
<circle cx="548" cy="95.6" r="2" fill="#940000" stroke="#2a0000" stroke-width="0.5"/>
<text x="559.1" y="25.56" font-size="7.1" font-style="italic" fill="#3a3a3a" textLength="19.9" lengthAdjust="spacingAndGlyphs">POLE3</text>
<text x="530.1" y="54.56" font-size="7.1" font-style="italic" fill="#3a3a3a" textLength="19.5" lengthAdjust="spacingAndGlyphs">FANCI</text>
<text x="553.8" y="52.06" font-size="7.1" font-style="italic" fill="#3a3a3a" textLength="17.5" lengthAdjust="spacingAndGlyphs">POLQ</text>
<text x="559.5" y="66.06" font-size="7.1" font-style="italic" fill="#3a3a3a" textLength="20.6" lengthAdjust="spacingAndGlyphs">FANCA</text>
<text x="523" y="66.76" font-size="7.1" font-style="italic" fill="#3a3a3a" textLength="23.1" lengthAdjust="spacingAndGlyphs">TOPBP1</text>
<text x="557" y="79.76" font-size="7.1" font-style="italic" fill="#3a3a3a" textLength="22" lengthAdjust="spacingAndGlyphs">FANCG</text>
<text x="523.4" y="85.56" font-size="7.1" font-style="italic" fill="#3a3a3a" textLength="25.2" lengthAdjust="spacingAndGlyphs">CDKN2C</text>
<text x="524.4" y="97.56" font-size="7.1" font-style="italic" fill="#3a3a3a" textLength="17.5" lengthAdjust="spacingAndGlyphs">CIP2A</text>
<text x="525.9" y="105.56" font-size="7.1" font-style="italic" fill="#3a3a3a" textLength="18.1" lengthAdjust="spacingAndGlyphs">PARP1</text>
<line x1="622" y1="67.5" x2="623.5" y2="69.5" stroke="#333" stroke-width="0.45"/>
<line x1="625" y1="81.5" x2="626" y2="85" stroke="#333" stroke-width="0.45"/>
<line x1="619" y1="94" x2="620.5" y2="91" stroke="#333" stroke-width="0.45"/>
<circle cx="625.5" cy="68.9" r="1.43" fill="#ff0000"/>
<circle cx="636" cy="74.1" r="1.32" fill="#ff0000"/>
<circle cx="633.9" cy="80.4" r="1.1" fill="#ff0000"/>
<circle cx="621.9" cy="85.3" r="1.65" fill="#ff0000"/>
<circle cx="634.3" cy="83.6" r="2.2" fill="#ff0000"/>
<circle cx="638.7" cy="84.6" r="1.65" fill="#ff0000"/>
<circle cx="641.2" cy="87.1" r="1.98" fill="#ff0000"/>
<circle cx="638.1" cy="89.9" r="1.1" fill="#ff0000"/>
<circle cx="644" cy="89.9" r="1.32" fill="#ff0000"/>
<circle cx="625.5" cy="89.9" r="1.65" fill="#ff0000"/>
<circle cx="628" cy="90.5" r="1.98" fill="#ff0000"/>
<circle cx="633.9" cy="92" r="1.98" fill="#ff0000"/>
<circle cx="638.5" cy="93" r="1.65" fill="#ff0000"/>
<circle cx="624" cy="71" r="1.8" fill="#940000" stroke="#2a0000" stroke-width="0.5"/>
<circle cx="626.1" cy="85.7" r="0.8" fill="#940000" stroke="#2a0000" stroke-width="0.5"/>
<circle cx="620.6" cy="89.5" r="1.5" fill="#940000" stroke="#2a0000" stroke-width="0.5"/>
<text x="605.9" y="67.66" font-size="7.1" font-style="italic" fill="#3a3a3a" textLength="20.2" lengthAdjust="spacingAndGlyphs">POLE3</text>
<text x="605.9" y="81.56" font-size="7.1" font-style="italic" fill="#3a3a3a" textLength="26.5" lengthAdjust="spacingAndGlyphs">CDKN2C</text>
<text x="605.9" y="98.76" font-size="7.1" font-style="italic" fill="#3a3a3a" textLength="18.5" lengthAdjust="spacingAndGlyphs">FANCI</text>
<text x="61.7" y="158.52" font-size="7" text-anchor="middle">HRD</text>
<text x="61.7" y="166.22" font-size="7" text-anchor="middle">(SLM = 53)</text>
<text x="61.7" y="173.62" font-size="7" text-anchor="middle"><tspan font-style="italic">P</tspan> = 0.027</text>
<text x="115" y="158.52" font-size="7" text-anchor="middle">HRD mutant</text>
<text x="115" y="166.22" font-size="7" text-anchor="middle">(SLM = 10)</text>
<text x="115" y="173.62" font-size="7" text-anchor="middle"><tspan font-style="italic">P</tspan> = 0.4</text>
<text x="168.4" y="158.52" font-size="7" text-anchor="middle">HRD methyl.</text>
<text x="168.4" y="166.22" font-size="7" text-anchor="middle">(SLM = 42)</text>
<text x="168.4" y="173.62" font-size="7" text-anchor="middle"><tspan font-style="italic">P</tspan> = 0.07</text>
<text x="221.6" y="158.52" font-size="7" text-anchor="middle">HRD other</text>
<text x="221.6" y="166.22" font-size="7" text-anchor="middle">(SLM = 31)</text>
<text x="221.6" y="173.62" font-size="7" text-anchor="middle"><tspan font-style="italic">P</tspan> = 0.019</text>
<text x="309" y="157.32" font-size="7" text-anchor="middle">HRD</text>
<text x="309" y="165.12" font-size="7" text-anchor="middle">(SLM = 36)</text>
<text x="309" y="173.02" font-size="7" text-anchor="middle"><tspan font-style="italic">P</tspan> = 0.005</text>
<text x="362.3" y="157.32" font-size="7" text-anchor="middle">HRD mutant</text>
<text x="362.3" y="165.12" font-size="7" text-anchor="middle">(SLM = 13)</text>
<text x="362.3" y="173.02" font-size="7" text-anchor="middle"><tspan font-style="italic">P</tspan> = 0.28</text>
<text x="415.4" y="157.32" font-size="7" text-anchor="middle">HRD methyl.</text>
<text x="415.4" y="165.12" font-size="7" text-anchor="middle">(SLM = 4)</text>
<text x="415.4" y="173.02" font-size="7" text-anchor="middle">P = 0.13</text>
<text x="468.7" y="157.32" font-size="7" text-anchor="middle">HRD other</text>
<text x="468.7" y="165.12" font-size="7" text-anchor="middle">(SLM = 25)</text>
<text x="468.7" y="173.02" font-size="7" text-anchor="middle">P = 0.017</text>
<text x="552.7" y="157.72" font-size="7" text-anchor="middle">HRD</text>
<text x="552.7" y="165.92" font-size="7" text-anchor="middle">(SLM = 27)</text>
<text x="552.7" y="173.72" font-size="7" text-anchor="middle"><tspan font-style="italic">P</tspan> = 0.002</text>
<text x="632.3" y="157.72" font-size="7" text-anchor="middle">HRD</text>
<text x="632.3" y="165.92" font-size="7" text-anchor="middle">(SLM = 16)</text>
<text x="632.3" y="173.72" font-size="7" text-anchor="middle"><tspan font-style="italic">P</tspan> = 0.46</text>
<text x="197.6" y="187.12" font-size="7" textLength="154.9" lengthAdjust="spacingAndGlyphs">Candidate synthetic lethal genes (effect size):</text>
<circle cx="356.8" cy="184.6" r="1.7" fill="#ff0000"/>
<text x="360.8" y="187.12" font-size="7">−1</text>
<circle cx="377.3" cy="184.6" r="2.2" fill="#940000" stroke="#2a0000" stroke-width="0.5"/>
<text x="381.8" y="187.12" font-size="7">−1.5</text>
<circle cx="406.7" cy="184.6" r="2.9" fill="#940000" stroke="#2a0000" stroke-width="0.5"/>
<text x="411.9" y="187.12" font-size="7">−2</text>
<circle cx="433.2" cy="184.6" r="3.4" fill="#940000" stroke="#2a0000" stroke-width="0.5"/>
<text x="438.9" y="187.12" font-size="7">−2.5</text>
<circle cx="464.2" cy="184.6" r="4" fill="#940000" stroke="#2a0000" stroke-width="0.5"/>
<text x="470.5" y="187.12" font-size="7">−3</text>
<text x="0.4" y="208.86" font-size="12.4" font-weight="bold" fill="#000" stroke="#000" stroke-width="0.55">b</text>
<text x="95.6" y="209.72" font-size="7" text-anchor="middle">SUM149</text>
<text x="44.2" y="217.42" font-size="7" textLength="104.4" lengthAdjust="spacingAndGlyphs"><tspan font-style="italic">BRCA1</tspan> mutant versus revertant</text>
<rect x="26.8" y="222.5" width="141.1" height="72.7" fill="none" stroke="#8a8a8a" stroke-width="0.9"/>
<line x1="27.3" y1="251" x2="167.4" y2="251" stroke="#999" stroke-width="0.8" stroke-dasharray="3.2 2.2"/>
<path d="M32 294C32.05 292.5 32.17 288.17 32.3 285C32.43 281.83 32.65 278.17 32.8 275C32.95 271.83 33.13 267.5 33.2 266" fill="none" stroke="#dcdcdc" stroke-width="1.3"/>
<path d="M33.2 266C33.37 265.53 33.7 264.1 34.2 263.2C34.7 262.3 35.32 261.4 36.2 260.6C37.08 259.8 38.2 259.08 39.5 258.4C40.8 257.72 42.25 257.07 44 256.5C45.75 255.93 47.33 255.48 50 255C52.67 254.52 56.33 254 60 253.6C63.67 253.2 67.67 252.93 72 252.6C76.33 252.27 81.33 251.93 86 251.6C90.67 251.27 94.33 251 100 250.6C105.67 250.2 114.17 249.63 120 249.2C125.83 248.77 130.83 248.4 135 248C139.17 247.6 142 247.23 145 246.8C148 246.37 150.67 245.93 153 245.4C155.33 244.87 157.42 244.3 159 243.6C160.58 242.9 161.53 242.22 162.5 241.2C163.47 240.18 164.23 239.03 164.8 237.5C165.37 235.97 165.65 234 165.9 232C166.15 230 166.23 226.58 166.3 225.5" fill="none" stroke="#c6c6c6" stroke-width="2.3" stroke-linecap="round"/>
<line x1="24.6" y1="225.6" x2="26.8" y2="225.6" stroke="#555" stroke-width="0.6"/>
<text x="22.8" y="227.9" font-size="6.4" text-anchor="end" fill="#4a4a4a">10</text>
<line x1="24.6" y1="238.3" x2="26.8" y2="238.3" stroke="#555" stroke-width="0.6"/>
<text x="22.8" y="240.6" font-size="6.4" text-anchor="end" fill="#4a4a4a">5</text>
<line x1="24.6" y1="250.9" x2="26.8" y2="250.9" stroke="#555" stroke-width="0.6"/>
<text x="22.8" y="253.2" font-size="6.4" text-anchor="end" fill="#4a4a4a">0</text>
<line x1="24.6" y1="263.5" x2="26.8" y2="263.5" stroke="#555" stroke-width="0.6"/>
<text x="22.8" y="265.8" font-size="6.4" text-anchor="end" fill="#4a4a4a">−5</text>
<line x1="24.6" y1="276" x2="26.8" y2="276" stroke="#555" stroke-width="0.6"/>
<text x="22.8" y="278.3" font-size="6.4" text-anchor="end" fill="#4a4a4a">−10</text>
<line x1="24.6" y1="288.5" x2="26.8" y2="288.5" stroke="#555" stroke-width="0.6"/>
<text x="22.8" y="290.8" font-size="6.4" text-anchor="end" fill="#4a4a4a">−15</text>
<line x1="32" y1="295.2" x2="32" y2="297.4" stroke="#555" stroke-width="0.6"/>
<text x="32" y="304.9" font-size="6.4" text-anchor="middle" fill="#4a4a4a">0</text>
<line x1="69.2" y1="295.2" x2="69.2" y2="297.4" stroke="#555" stroke-width="0.6"/>
<text x="69.2" y="304.9" font-size="6.4" text-anchor="middle" fill="#4a4a4a">5,000</text>
<line x1="106.4" y1="295.2" x2="106.4" y2="297.4" stroke="#555" stroke-width="0.6"/>
<text x="106.4" y="304.9" font-size="6.4" text-anchor="middle" fill="#4a4a4a">10,000</text>
<line x1="143.6" y1="295.2" x2="143.6" y2="297.4" stroke="#555" stroke-width="0.6"/>
<text x="143.6" y="304.9" font-size="6.4" text-anchor="middle" fill="#4a4a4a">15,000</text>
<text x="99" y="313.52" font-size="7" text-anchor="middle">Rank</text>
<text transform="translate(8.6,256.2) rotate(-90)" x="0" y="0" font-size="7" text-anchor="middle" fill="#262626" textLength="73.5" lengthAdjust="spacingAndGlyphs">Δ (mutant - proficient)</text>
<line x1="28.8" y1="232" x2="34.4" y2="262.6" stroke="#333" stroke-width="0.45"/>
<line x1="37" y1="239" x2="34.8" y2="262.3" stroke="#333" stroke-width="0.45"/>
<line x1="48" y1="247" x2="35.2" y2="262" stroke="#333" stroke-width="0.45"/>
<line x1="78" y1="241.6" x2="36" y2="261" stroke="#333" stroke-width="0.45"/>
<line x1="48" y1="260.6" x2="34.4" y2="263" stroke="#333" stroke-width="0.45"/>
<line x1="47" y1="266.6" x2="33.4" y2="265" stroke="#333" stroke-width="0.45"/>
<line x1="45.5" y1="272.4" x2="33" y2="267" stroke="#333" stroke-width="0.45"/>
<line x1="62.5" y1="278.2" x2="33" y2="268.5" stroke="#333" stroke-width="0.45"/>
<line x1="61.5" y1="285" x2="32.8" y2="269" stroke="#333" stroke-width="0.45"/>
<line x1="34.5" y1="284" x2="32.4" y2="272" stroke="#333" stroke-width="0.45"/>
<line x1="33.8" y1="290.5" x2="31.9" y2="283.5" stroke="#333" stroke-width="0.45"/>
<circle cx="31.7" cy="282.4" r="1.1" fill="#ff0000"/>
<circle cx="32.4" cy="269.5" r="0.9" fill="#ff0000"/>
<circle cx="32.8" cy="267.3" r="0.9" fill="#ff0000"/>
<circle cx="33.3" cy="265.2" r="0.9" fill="#ff0000"/>
<circle cx="34.2" cy="263.2" r="0.9" fill="#ff0000"/>
<circle cx="35.5" cy="261.4" r="0.9" fill="#ff0000"/>
<circle cx="37.2" cy="259.8" r="0.9" fill="#ff0000"/>
<circle cx="39.5" cy="258.5" r="0.9" fill="#ff0000"/>
<circle cx="43.3" cy="256.8" r="1" fill="#ff0000"/>
<text x="27.8" y="232.26" font-size="7.1" font-style="italic" fill="#3a3a3a" textLength="18.9" lengthAdjust="spacingAndGlyphs">APEX2</text>
<text x="33.8" y="239.16" font-size="7.1" font-style="italic" fill="#3a3a3a" textLength="18.2" lengthAdjust="spacingAndGlyphs">PARP1</text>
<text x="41.7" y="247.26" font-size="7.1" font-style="italic" fill="#3a3a3a" textLength="19" lengthAdjust="spacingAndGlyphs">REV3L</text>
<text x="70.7" y="241.96" font-size="7.1" font-style="italic" fill="#3a3a3a" textLength="18.3" lengthAdjust="spacingAndGlyphs">CIP2A</text>
<text x="48.3" y="262.96" font-size="7.1" font-style="italic" fill="#3a3a3a" textLength="20.7" lengthAdjust="spacingAndGlyphs">FANCF</text>
<text x="47" y="269.16" font-size="7.1" font-style="italic" fill="#3a3a3a" textLength="20.6" lengthAdjust="spacingAndGlyphs">XRCC1</text>
<text x="45.5" y="275.16" font-size="7.1" font-style="italic" fill="#3a3a3a" textLength="22.5" lengthAdjust="spacingAndGlyphs">FANCM</text>
<text x="62.8" y="280.96" font-size="7.1" font-style="italic" fill="#3a3a3a" textLength="27.5" lengthAdjust="spacingAndGlyphs">FAAP100</text>
<text x="61.7" y="288.06" font-size="7.1" font-style="italic" fill="#3a3a3a" textLength="20.7" lengthAdjust="spacingAndGlyphs">FANCL</text>
<text x="34.5" y="288.06" font-size="7.1" font-style="italic" fill="#3a3a3a" textLength="20.5" lengthAdjust="spacingAndGlyphs">FANCA</text>
<text x="33.6" y="294.56" font-size="7.1" font-style="italic" fill="#3a3a3a" textLength="23.1" lengthAdjust="spacingAndGlyphs">FAAP24</text>
<text x="174" y="208.96" font-size="12.4" font-weight="bold" fill="#000" stroke="#000" stroke-width="0.55">c</text>
<text x="267.5" y="209.72" font-size="7" text-anchor="middle">Capan1</text>
<text x="215" y="217.42" font-size="7" textLength="105.8" lengthAdjust="spacingAndGlyphs"><tspan font-style="italic">BRCA2</tspan> mutant versus revertant</text>
<rect x="197.3" y="222.5" width="141.2" height="72.6" fill="none" stroke="#8a8a8a" stroke-width="0.9"/>
<line x1="197.8" y1="252.4" x2="338" y2="252.4" stroke="#6a6a6a" stroke-width="0.8" stroke-dasharray="3.2 2.2"/>
<path d="M203 292.6C203.03 291.33 203.12 287.57 203.2 285C203.28 282.43 203.38 279.53 203.5 277.2C203.62 274.87 203.83 272.03 203.9 271" fill="none" stroke="#dcdcdc" stroke-width="1.3"/>
<path d="M203.9 271C204.18 270.08 204.78 266.95 205.6 265.5C206.42 264.05 207.03 263.35 208.8 262.3C210.57 261.25 213.2 260.08 216.2 259.2C219.2 258.32 221.52 257.72 226.8 257C232.08 256.28 240.85 255.6 247.9 254.9C254.95 254.2 262.03 253.5 269.1 252.8C276.17 252.1 283.25 251.58 290.3 250.7C297.35 249.82 305.42 248.73 311.4 247.5C317.38 246.27 322.67 244.72 326.2 243.3C329.73 241.88 331.12 240.77 332.6 239C334.08 237.23 334.57 234.95 335.1 232.7C335.63 230.45 335.68 226.7 335.8 225.5" fill="none" stroke="#c6c6c6" stroke-width="2.3" stroke-linecap="round"/>
<line x1="195.1" y1="236.8" x2="197.3" y2="236.8" stroke="#555" stroke-width="0.6"/>
<text x="193.3" y="239.1" font-size="6.4" text-anchor="end" fill="#4a4a4a">5</text>
<line x1="195.1" y1="252.6" x2="197.3" y2="252.6" stroke="#555" stroke-width="0.6"/>
<text x="193.3" y="254.9" font-size="6.4" text-anchor="end" fill="#4a4a4a">0</text>
<line x1="195.1" y1="268.8" x2="197.3" y2="268.8" stroke="#555" stroke-width="0.6"/>
<text x="193.3" y="271.1" font-size="6.4" text-anchor="end" fill="#4a4a4a">−5</text>
<line x1="195.1" y1="284.6" x2="197.3" y2="284.6" stroke="#555" stroke-width="0.6"/>
<text x="193.3" y="286.9" font-size="6.4" text-anchor="end" fill="#4a4a4a">−10</text>
<line x1="203.5" y1="295.1" x2="203.5" y2="297.3" stroke="#555" stroke-width="0.6"/>
<text x="203.5" y="304.9" font-size="6.4" text-anchor="middle" fill="#4a4a4a">0</text>
<line x1="238.8" y1="295.1" x2="238.8" y2="297.3" stroke="#555" stroke-width="0.6"/>
<text x="238.8" y="304.9" font-size="6.4" text-anchor="middle" fill="#4a4a4a">5,000</text>
<line x1="274.1" y1="295.1" x2="274.1" y2="297.3" stroke="#555" stroke-width="0.6"/>
<text x="274.1" y="304.9" font-size="6.4" text-anchor="middle" fill="#4a4a4a">10,000</text>
<line x1="309.4" y1="295.1" x2="309.4" y2="297.3" stroke="#555" stroke-width="0.6"/>
<text x="309.4" y="304.9" font-size="6.4" text-anchor="middle" fill="#4a4a4a">15,000</text>
<text x="269.6" y="313.52" font-size="7" text-anchor="middle">Rank</text>
<text transform="translate(180.1,256.2) rotate(-90)" x="0" y="0" font-size="7" text-anchor="middle" fill="#262626" textLength="73.5" lengthAdjust="spacingAndGlyphs">Δ (mutant - proficient)</text>
<line x1="200.5" y1="245" x2="207.8" y2="261.6" stroke="#333" stroke-width="0.45"/>
<line x1="222" y1="251.8" x2="208.8" y2="261.8" stroke="#333" stroke-width="0.45"/>
<line x1="211.8" y1="262" x2="209.2" y2="262.3" stroke="#333" stroke-width="0.45"/>
<line x1="214.4" y1="268.4" x2="209" y2="263.2" stroke="#333" stroke-width="0.45"/>
<line x1="213" y1="275" x2="204.6" y2="270.4" stroke="#333" stroke-width="0.45"/>
<line x1="211.4" y1="281.6" x2="204.3" y2="270.8" stroke="#333" stroke-width="0.45"/>
<line x1="206" y1="288" x2="203.9" y2="271" stroke="#333" stroke-width="0.45"/>
<circle cx="208.1" cy="262.3" r="1.4" fill="#ff0000"/>
<circle cx="203.9" cy="269.7" r="1.4" fill="#ff0000"/>
<text x="198.2" y="244.76" font-size="7.1" font-style="italic" fill="#3a3a3a" textLength="18" lengthAdjust="spacingAndGlyphs">POLQ</text>
<text x="220" y="252.16" font-size="7.1" font-style="italic" fill="#3a3a3a" textLength="21.6" lengthAdjust="spacingAndGlyphs">RHNO1</text>
<text x="211.9" y="264.46" font-size="7.1" font-style="italic" fill="#3a3a3a" textLength="24.4" lengthAdjust="spacingAndGlyphs">APEX2</text>
<text x="214.5" y="272.26" font-size="7.1" font-style="italic" fill="#3a3a3a" textLength="20.7" lengthAdjust="spacingAndGlyphs">XRCC1</text>
<text x="213" y="278.66" font-size="7.1" font-style="italic" fill="#3a3a3a" textLength="18" lengthAdjust="spacingAndGlyphs">CIP2A</text>
<text x="211.5" y="285.46" font-size="7.1" font-style="italic" fill="#3a3a3a" textLength="13.1" lengthAdjust="spacingAndGlyphs">LIG1</text>
<text x="205.6" y="292.46" font-size="7.1" font-style="italic" fill="#3a3a3a" textLength="19" lengthAdjust="spacingAndGlyphs">REV3L</text>
<text x="345.2" y="208.76" font-size="12.4" font-weight="bold" fill="#000" stroke="#000" stroke-width="0.55">d</text>
<text x="439" y="209.72" font-size="7" text-anchor="middle">RPE1</text>
<text x="385.7" y="217.42" font-size="7" textLength="104.3" lengthAdjust="spacingAndGlyphs"><tspan font-style="italic">BRCA1</tspan> mutant versus parental</text>
<text x="490.3" y="214.11" font-size="4.2">7</text>
<rect x="368.3" y="222.5" width="144" height="72.5" fill="none" stroke="#8a8a8a" stroke-width="0.9"/>
<line x1="368.8" y1="261.3" x2="511.8" y2="261.3" stroke="#6a6a6a" stroke-width="0.8" stroke-dasharray="3.2 2.2"/>
<path d="M372.2 293.5C372.23 292.92 372.33 291.08 372.4 290C372.47 288.92 372.57 287.5 372.6 287" fill="none" stroke="#dcdcdc" stroke-width="1.3"/>
<path d="M372.6 287C372.75 285.92 372.93 282.47 373.5 280.5C374.07 278.53 374.92 276.78 376 275.2C377.08 273.62 378.5 272.17 380 271C381.5 269.83 383.17 269.07 385 268.2C386.83 267.33 388.5 266.57 391 265.8C393.5 265.03 396.83 264.18 400 263.6C403.17 263.02 406.67 262.67 410 262.3C413.33 261.93 415 261.85 420 261.4C425 260.95 433.33 260.12 440 259.6C446.67 259.08 453.33 258.73 460 258.3C466.67 257.87 474.5 257.52 480 257C485.5 256.48 489.5 256.03 493 255.2C496.5 254.37 498.92 253.37 501 252C503.08 250.63 504.47 248.92 505.5 247C506.53 245.08 506.87 242.08 507.2 240.5C507.53 238.92 507.45 238 507.5 237.5" fill="none" stroke="#c6c6c6" stroke-width="2.3" stroke-linecap="round"/>
<line x1="366.1" y1="231.6" x2="368.3" y2="231.6" stroke="#555" stroke-width="0.6"/>
<text x="364.3" y="233.9" font-size="6.4" text-anchor="end" fill="#4a4a4a">6</text>
<line x1="366.1" y1="241.6" x2="368.3" y2="241.6" stroke="#555" stroke-width="0.6"/>
<text x="364.3" y="243.9" font-size="6.4" text-anchor="end" fill="#4a4a4a">4</text>
<line x1="366.1" y1="251.5" x2="368.3" y2="251.5" stroke="#555" stroke-width="0.6"/>
<text x="364.3" y="253.8" font-size="6.4" text-anchor="end" fill="#4a4a4a">2</text>
<line x1="366.1" y1="261.3" x2="368.3" y2="261.3" stroke="#555" stroke-width="0.6"/>
<text x="364.3" y="263.6" font-size="6.4" text-anchor="end" fill="#4a4a4a">0</text>
<line x1="366.1" y1="271.1" x2="368.3" y2="271.1" stroke="#555" stroke-width="0.6"/>
<text x="364.3" y="273.4" font-size="6.4" text-anchor="end" fill="#4a4a4a">−2</text>
<line x1="366.1" y1="281.2" x2="368.3" y2="281.2" stroke="#555" stroke-width="0.6"/>
<text x="364.3" y="283.5" font-size="6.4" text-anchor="end" fill="#4a4a4a">−4</text>
<line x1="366.1" y1="291.2" x2="368.3" y2="291.2" stroke="#555" stroke-width="0.6"/>
<text x="364.3" y="293.5" font-size="6.4" text-anchor="end" fill="#4a4a4a">−6</text>
<line x1="371.2" y1="295" x2="371.2" y2="297.2" stroke="#555" stroke-width="0.6"/>
<text x="371.2" y="304.9" font-size="6.4" text-anchor="middle" fill="#4a4a4a">0</text>
<line x1="409.1" y1="295" x2="409.1" y2="297.2" stroke="#555" stroke-width="0.6"/>
<text x="409.1" y="304.9" font-size="6.4" text-anchor="middle" fill="#4a4a4a">5,000</text>
<line x1="447.1" y1="295" x2="447.1" y2="297.2" stroke="#555" stroke-width="0.6"/>
<text x="447.1" y="304.9" font-size="6.4" text-anchor="middle" fill="#4a4a4a">10,000</text>
<line x1="485" y1="295" x2="485" y2="297.2" stroke="#555" stroke-width="0.6"/>
<text x="485" y="304.9" font-size="6.4" text-anchor="middle" fill="#4a4a4a">15,000</text>
<text x="440" y="313.52" font-size="7" text-anchor="middle">Rank</text>
<text transform="translate(351.5,256.2) rotate(-90)" x="0" y="0" font-size="7" text-anchor="middle" fill="#262626" textLength="73.5" lengthAdjust="spacingAndGlyphs">Δ (mutant - proficient)</text>
<line x1="371" y1="258" x2="373.2" y2="285.5" stroke="#333" stroke-width="0.45"/>
<line x1="391" y1="251.4" x2="377.2" y2="274" stroke="#333" stroke-width="0.45"/>
<line x1="397" y1="258.2" x2="391.6" y2="265" stroke="#333" stroke-width="0.45"/>
<line x1="391" y1="268.5" x2="388" y2="268" stroke="#333" stroke-width="0.45"/>
<line x1="388" y1="275.5" x2="375" y2="285.8" stroke="#333" stroke-width="0.45"/>
<line x1="387" y1="280.8" x2="375" y2="287" stroke="#333" stroke-width="0.45"/>
<line x1="385" y1="286.6" x2="375" y2="289" stroke="#333" stroke-width="0.45"/>
<line x1="382.5" y1="292" x2="375" y2="291" stroke="#333" stroke-width="0.45"/>
<line x1="380.5" y1="297.8" x2="374.2" y2="292.2" stroke="#333" stroke-width="0.45"/>
<line x1="382.2" y1="307.2" x2="374.4" y2="292.5" stroke="#333" stroke-width="0.45"/>
<line x1="379.5" y1="314.8" x2="373.8" y2="293" stroke="#333" stroke-width="0.45"/>
<line x1="366" y1="305.5" x2="372.8" y2="293" stroke="#333" stroke-width="0.45"/>
<line x1="423.8" y1="256" x2="419.2" y2="260.4" stroke="#333" stroke-width="0.45"/>
<line x1="423.8" y1="265.6" x2="419.2" y2="262" stroke="#333" stroke-width="0.45"/>
<circle cx="376.9" cy="274.5" r="1.4" fill="#ff0000"/>
<circle cx="391" cy="265.7" r="1.4" fill="#ff0000"/>
<circle cx="416.6" cy="261.3" r="1.4" fill="#ff0000"/>
<circle cx="418.9" cy="261" r="1.4" fill="#ff0000"/>
<circle cx="373.7" cy="285" r="1.3" fill="#ff0000"/>
<circle cx="373.7" cy="291.6" r="1.3" fill="#ff0000"/>
<text x="368" y="258.16" font-size="7.1" font-style="italic" fill="#3a3a3a" textLength="17.7" lengthAdjust="spacingAndGlyphs">CIP2A</text>
<text x="389.5" y="251.96" font-size="7.1" font-style="italic" fill="#3a3a3a" textLength="12.9" lengthAdjust="spacingAndGlyphs">LIG1</text>
<text x="394.8" y="258.76" font-size="7.1" font-style="italic" fill="#3a3a3a" textLength="18.9" lengthAdjust="spacingAndGlyphs">REV3L</text>
<text x="423.8" y="256.96" font-size="7.1" font-style="italic" fill="#3a3a3a" textLength="17.4" lengthAdjust="spacingAndGlyphs">POLQ</text>
<text x="423.8" y="269.76" font-size="7.1" font-style="italic" fill="#3a3a3a" textLength="21.9" lengthAdjust="spacingAndGlyphs">RHNO1</text>
<text x="391" y="271.06" font-size="7.1" font-style="italic" fill="#3a3a3a" textLength="22.7" lengthAdjust="spacingAndGlyphs">FANCF</text>
<text x="388.2" y="277.06" font-size="7.1" font-style="italic" fill="#3a3a3a" textLength="19.5" lengthAdjust="spacingAndGlyphs">APEX2</text>
<text x="386.9" y="282.76" font-size="7.1" font-style="italic" fill="#3a3a3a" textLength="19.6" lengthAdjust="spacingAndGlyphs">XRCC1</text>
<text x="385" y="288.86" font-size="7.1" font-style="italic" fill="#3a3a3a" textLength="26.5" lengthAdjust="spacingAndGlyphs">FAAP100</text>
<text x="382.5" y="294.66" font-size="7.1" font-style="italic" fill="#3a3a3a" textLength="22.7" lengthAdjust="spacingAndGlyphs">FANCM</text>
<text x="380" y="301.96" font-size="7.1" font-style="italic" fill="#3a3a3a" textLength="19.7" lengthAdjust="spacingAndGlyphs">PARP1</text>
<text x="382" y="311.76" font-size="7.1" font-style="italic" fill="#3a3a3a" textLength="24" lengthAdjust="spacingAndGlyphs">FAAP24</text>
<text x="379" y="319.26" font-size="7.1" font-style="italic" fill="#3a3a3a" textLength="20.7" lengthAdjust="spacingAndGlyphs">FANCL</text>
<text x="349.2" y="311.16" font-size="7.1" font-style="italic" fill="#3a3a3a" textLength="21.6" lengthAdjust="spacingAndGlyphs">FANCA</text>
<line x1="373.7" y1="285" x2="373.7" y2="291.6" stroke="#ff0000" stroke-width="2.6"/>
<circle cx="507.6" cy="224" r="1.05" fill="#c0c0c0"/>
<circle cx="507.6" cy="228" r="1.05" fill="#c0c0c0"/>
<circle cx="507.6" cy="231.6" r="1.05" fill="#c0c0c0"/>
<circle cx="507.6" cy="234.5" r="1.05" fill="#c0c0c0"/>
<text x="517.6" y="208.91" font-size="12.4" font-weight="bold" fill="#000" stroke="#000" stroke-width="0.55">e</text>
<text x="613.1" y="209.72" font-size="7" text-anchor="middle">DLD1</text>
<text x="559.8" y="217.42" font-size="7" textLength="104.7" lengthAdjust="spacingAndGlyphs"><tspan font-style="italic">BRCA2</tspan> mutant versus parental</text>
<text x="664.8" y="214.11" font-size="4.2">7</text>
<rect x="540.2" y="222.5" width="144.2" height="72.7" fill="none" stroke="#8a8a8a" stroke-width="0.9"/>
<line x1="540.7" y1="246.3" x2="683.9" y2="246.3" stroke="#6a6a6a" stroke-width="0.8" stroke-dasharray="3.2 2.2"/>
<path d="M545.5 293.1C545.57 291.75 545.78 287.5 545.9 285C546.02 282.5 546.08 281.4 546.2 278.1C546.32 274.8 546.53 267.35 546.6 265.2" fill="none" stroke="#dcdcdc" stroke-width="1.3"/>
<path d="M546.6 265.2C546.95 263.95 547.63 259.67 548.7 257.7C549.77 255.73 551.2 254.55 553 253.4C554.8 252.25 556.63 251.45 559.5 250.8C562.37 250.15 566.63 249.88 570.2 249.5C573.77 249.12 575.53 248.92 580.9 248.5C586.27 248.08 595.25 247.5 602.4 247C609.55 246.5 616.65 246.03 623.8 245.5C630.95 244.97 638.13 244.63 645.3 243.8C652.47 242.97 661.8 241.58 666.8 240.5C671.8 239.42 673.33 238.55 675.3 237.3C677.27 236.05 677.88 234.78 678.6 233C679.32 231.22 679.42 228.27 679.6 226.6C679.78 224.93 679.68 223.6 679.7 223" fill="none" stroke="#c6c6c6" stroke-width="2.3" stroke-linecap="round"/>
<line x1="538" y1="225.5" x2="540.2" y2="225.5" stroke="#555" stroke-width="0.6"/>
<text x="536.2" y="227.8" font-size="6.4" text-anchor="end" fill="#4a4a4a">4</text>
<line x1="538" y1="235.9" x2="540.2" y2="235.9" stroke="#555" stroke-width="0.6"/>
<text x="536.2" y="238.2" font-size="6.4" text-anchor="end" fill="#4a4a4a">2</text>
<line x1="538" y1="246.3" x2="540.2" y2="246.3" stroke="#555" stroke-width="0.6"/>
<text x="536.2" y="248.6" font-size="6.4" text-anchor="end" fill="#4a4a4a">0</text>
<line x1="538" y1="256.7" x2="540.2" y2="256.7" stroke="#555" stroke-width="0.6"/>
<text x="536.2" y="259" font-size="6.4" text-anchor="end" fill="#4a4a4a">−2</text>
<line x1="538" y1="266.6" x2="540.2" y2="266.6" stroke="#555" stroke-width="0.6"/>
<text x="536.2" y="268.9" font-size="6.4" text-anchor="end" fill="#4a4a4a">−4</text>
<line x1="538" y1="276.6" x2="540.2" y2="276.6" stroke="#555" stroke-width="0.6"/>
<text x="536.2" y="278.9" font-size="6.4" text-anchor="end" fill="#4a4a4a">−6</text>
<line x1="538" y1="287" x2="540.2" y2="287" stroke="#555" stroke-width="0.6"/>
<text x="536.2" y="289.3" font-size="6.4" text-anchor="end" fill="#4a4a4a">−8</text>
<line x1="545.6" y1="295.2" x2="545.6" y2="297.4" stroke="#555" stroke-width="0.6"/>
<text x="545.6" y="304.9" font-size="6.4" text-anchor="middle" fill="#4a4a4a">0</text>
<line x1="583.5" y1="295.2" x2="583.5" y2="297.4" stroke="#555" stroke-width="0.6"/>
<text x="583.5" y="304.9" font-size="6.4" text-anchor="middle" fill="#4a4a4a">5,000</text>
<line x1="621.3" y1="295.2" x2="621.3" y2="297.4" stroke="#555" stroke-width="0.6"/>
<text x="621.3" y="304.9" font-size="6.4" text-anchor="middle" fill="#4a4a4a">10,000</text>
<line x1="659.1" y1="295.2" x2="659.1" y2="297.4" stroke="#555" stroke-width="0.6"/>
<text x="659.1" y="304.9" font-size="6.4" text-anchor="middle" fill="#4a4a4a">15,000</text>
<text x="612.6" y="313.52" font-size="7" text-anchor="middle">Rank</text>
<text transform="translate(523.5,256.2) rotate(-90)" x="0" y="0" font-size="7" text-anchor="middle" fill="#262626" textLength="73.5" lengthAdjust="spacingAndGlyphs">Δ (mutant - proficient)</text>
<line x1="563" y1="244" x2="565.5" y2="248.8" stroke="#333" stroke-width="0.45"/>
<line x1="588.5" y1="243.6" x2="581" y2="247.4" stroke="#333" stroke-width="0.45"/>
<line x1="584" y1="253.4" x2="577" y2="249" stroke="#333" stroke-width="0.45"/>
<line x1="554.5" y1="260.8" x2="547.2" y2="265" stroke="#333" stroke-width="0.45"/>
<line x1="554" y1="266.6" x2="547" y2="273.6" stroke="#333" stroke-width="0.45"/>
<line x1="553.5" y1="272.4" x2="547" y2="275.6" stroke="#333" stroke-width="0.45"/>
<line x1="553.5" y1="278" x2="547" y2="280.5" stroke="#333" stroke-width="0.45"/>
<line x1="553.5" y1="284.2" x2="547" y2="281.5" stroke="#333" stroke-width="0.45"/>
<line x1="552.6" y1="290" x2="546.6" y2="286.6" stroke="#333" stroke-width="0.45"/>
<line x1="549.4" y1="298" x2="546" y2="293.2" stroke="#333" stroke-width="0.45"/>
<circle cx="565.5" cy="249.8" r="1.4" fill="#ff0000"/>
<circle cx="576.2" cy="248" r="1.4" fill="#ff0000"/>
<circle cx="580.3" cy="248" r="1.4" fill="#ff0000"/>
<circle cx="546.6" cy="265.2" r="1.4" fill="#ff0000"/>
<circle cx="546.2" cy="274.2" r="1.4" fill="#ff0000"/>
<circle cx="546.2" cy="276" r="1.4" fill="#ff0000"/>
<circle cx="546" cy="280.7" r="1.4" fill="#ff0000"/>
<circle cx="546" cy="286.2" r="1.3" fill="#ff0000"/>
<circle cx="545.6" cy="292" r="1.3" fill="#ff0000"/>
<text x="549.2" y="244.16" font-size="7.1" font-style="italic" fill="#3a3a3a" textLength="12.8" lengthAdjust="spacingAndGlyphs">LIG1</text>
<text x="588.9" y="244.76" font-size="7.1" font-style="italic" fill="#3a3a3a" textLength="26.8" lengthAdjust="spacingAndGlyphs">FAAP100</text>
<text x="584.1" y="257.06" font-size="7.1" font-style="italic" fill="#3a3a3a" textLength="23" lengthAdjust="spacingAndGlyphs">FANCM</text>
<text x="554.7" y="261.76" font-size="7.1" font-style="italic" fill="#3a3a3a" textLength="21.9" lengthAdjust="spacingAndGlyphs">RHNO1</text>
<text x="554.1" y="268.16" font-size="7.1" font-style="italic" fill="#3a3a3a" textLength="18.7" lengthAdjust="spacingAndGlyphs">PARP1</text>
<text x="553.5" y="274.16" font-size="7.1" font-style="italic" fill="#3a3a3a" textLength="19.3" lengthAdjust="spacingAndGlyphs">REV3L</text>
<text x="553.5" y="280.66" font-size="7.1" font-style="italic" fill="#3a3a3a" textLength="17.8" lengthAdjust="spacingAndGlyphs">CIP2A</text>
<text x="553.5" y="286.66" font-size="7.1" font-style="italic" fill="#3a3a3a" textLength="19.9" lengthAdjust="spacingAndGlyphs">XRCC1</text>
<text x="552.6" y="293.06" font-size="7.1" font-style="italic" fill="#3a3a3a" textLength="18.1" lengthAdjust="spacingAndGlyphs">POLQ</text>
<text x="549.2" y="301.76" font-size="7.1" font-style="italic" fill="#3a3a3a" textLength="19.3" lengthAdjust="spacingAndGlyphs">APEX2</text>
<line x1="32.6" y1="326.3" x2="671.5" y2="326.3" stroke="#222" stroke-width="1"/>
<line x1="33" y1="322" x2="33" y2="326.3" stroke="#222" stroke-width="1"/>
<line x1="671" y1="322" x2="671" y2="326.3" stroke="#222" stroke-width="1"/>
<line x1="98.6" y1="316.3" x2="98.6" y2="323.2" stroke="#45557a" stroke-width="1"/>
<path d="M96.6 321.2L98.6 322.2L100.6 321.2L98.6 325.4Z" fill="#45557a" stroke="none" stroke-width="0"/>
<line x1="269.6" y1="316.3" x2="269.6" y2="323.2" stroke="#45557a" stroke-width="1"/>
<path d="M267.6 321.2L269.6 322.2L271.6 321.2L269.6 325.4Z" fill="#45557a" stroke="none" stroke-width="0"/>
<line x1="440.1" y1="316.3" x2="440.1" y2="323.2" stroke="#45557a" stroke-width="1"/>
<path d="M438.1 321.2L440.1 322.2L442.1 321.2L440.1 325.4Z" fill="#45557a" stroke="none" stroke-width="0"/>
<line x1="612.4" y1="316.3" x2="612.4" y2="323.2" stroke="#45557a" stroke-width="1"/>
<path d="M610.4 321.2L612.4 322.2L614.4 321.2L612.4 325.4Z" fill="#45557a" stroke="none" stroke-width="0"/>
<line x1="457.4" y1="331.5" x2="457.4" y2="355.8" stroke="#45557a" stroke-width="1"/>
<path d="M455.4 353.8L457.4 354.8L459.4 353.8L457.4 358Z" fill="#45557a" stroke="none" stroke-width="0"/>
<text x="0" y="357.06" font-size="12.4" font-weight="bold" fill="#000" stroke="#000" stroke-width="0.55">f</text>
<rect x="19.1" y="352.1" width="144.6" height="69.2" fill="none" stroke="#555" stroke-width="0.9"/>
<text x="56.2" y="365.2" font-size="8.9" textLength="70.8" lengthAdjust="spacingAndGlyphs">DepMap cell lines</text>
<text x="26.3" y="375.6" font-size="8.9" textLength="130.8" lengthAdjust="spacingAndGlyphs"><tspan font-style="italic">BRCA1/2</tspan> defective (<tspan font-style="italic">n</tspan> = 11) versus</text>
<text x="32.7" y="385.8" font-size="8.9" textLength="118.5" lengthAdjust="spacingAndGlyphs"><tspan font-style="italic">BRCA1/2</tspan> proficient (n = 1,084)</text>
<text x="74.3" y="399.9" font-size="8.9" font-style="italic" fill="#279227" textLength="34.2" lengthAdjust="spacingAndGlyphs">BRCA1/2</text>
<text x="25.9" y="410.5" font-size="8.9" fill="#279227" textLength="131.2" lengthAdjust="spacingAndGlyphs">candidate synthetic lethal genes</text>
<line x1="163.7" y1="387.6" x2="277.5" y2="387.6" stroke="#45557a" stroke-width="1.1"/>
<path d="M275.8 385.4L280 387.6L275.8 389.8L276.8 387.6Z" fill="#45557a" stroke="none" stroke-width="0"/>
<circle cx="306.8" cy="387.3" r="21.2" fill="none" stroke="#4aaa1c" stroke-width="1.5"/>
<circle cx="331.5" cy="387.3" r="21.2" fill="none" stroke="#4aaa1c" stroke-width="1.5"/>
<text x="292" y="390.74" font-size="7.6" textLength="11.3" lengthAdjust="spacingAndGlyphs">216</text>
<text x="314.6" y="390.74" font-size="7.6" textLength="7.6" lengthAdjust="spacingAndGlyphs">18</text>
<text x="333.2" y="390.74" font-size="7.6" textLength="7" lengthAdjust="spacingAndGlyphs">13</text>
<text x="276.4" y="363.6" font-size="8.9" textLength="74.7" lengthAdjust="spacingAndGlyphs">Overlap <tspan font-style="italic">P</tspan> = 1.1 × 10</text>
<text x="351.3" y="359.27" font-size="5.2" textLength="9.9" lengthAdjust="spacingAndGlyphs">-26</text>
<line x1="374.8" y1="386.9" x2="361.5" y2="386.9" stroke="#45557a" stroke-width="1.1"/>
<path d="M363.2 384.7L359 386.9L363.2 389.1L362.2 386.9Z" fill="#45557a" stroke="none" stroke-width="0"/>
<text x="430.2" y="379.2" font-size="8.9" font-style="italic" fill="#279227" textLength="34.4" lengthAdjust="spacingAndGlyphs">BRCA1/2</text>
<text x="382" y="389.1" font-size="8.9" fill="#279227" textLength="130.3" lengthAdjust="spacingAndGlyphs">candidate synthetic lethal genes</text>
<text x="411.2" y="398.9" font-size="8.9" fill="#279227" textLength="72.7" lengthAdjust="spacingAndGlyphs">(isogenic screens)</text>
<path d="M319.3 398.5C318.5 410 316 420 310.8 428" fill="none" stroke="#45557a" stroke-width="0.8"/>
<path d="M307.9 426.2L310.2 429.6L312.6 426.6Z" fill="#45557a" stroke="none" stroke-width="0"/>
<path d="M319.3 398.5C320.5 410 323 420 328.2 428" fill="none" stroke="#45557a" stroke-width="0.8"/>
<path d="M326.4 426.6L328.8 429.6L331.0 426.0Z" fill="#45557a" stroke="none" stroke-width="0"/>
<circle cx="265" cy="442.9" r="21.4" fill="none" stroke="#9f6dff" stroke-width="1.5"/>
<circle cx="289.8" cy="442.9" r="21.4" fill="none" stroke="#4aaa1c" stroke-width="1.5"/>
<text x="246.7" y="447.24" font-size="7.6" textLength="19.3" lengthAdjust="spacingAndGlyphs">3,988</text>
<text x="272.2" y="447.24" font-size="7.6" textLength="7.1" lengthAdjust="spacingAndGlyphs">12</text>
<text x="296" y="447.24" font-size="7.6" textLength="3.9" lengthAdjust="spacingAndGlyphs">6</text>
<text x="229" y="474.2" font-size="8.9" textLength="80.6" lengthAdjust="spacingAndGlyphs">Overlap <tspan font-style="italic">P</tspan> = 5.49 × 10</text>
<text x="309.8" y="469.87" font-size="5.2" textLength="9.5" lengthAdjust="spacingAndGlyphs">-6</text>
<line x1="224.8" y1="444.4" x2="237.7" y2="444.4" stroke="#45557a" stroke-width="1.1"/>
<path d="M236 442.2L240.2 444.4L236 446.6L237 444.4Z" fill="#45557a" stroke="none" stroke-width="0"/>
<text x="161.8" y="436.4" font-size="8.9" fill="#7b3df7" textLength="64.1" lengthAdjust="spacingAndGlyphs">Hyperexpressed</text>
<text x="182.2" y="446.5" font-size="8.9" fill="#7b3df7" textLength="23.8" lengthAdjust="spacingAndGlyphs">genes</text>
<text x="161.9" y="457" font-size="8.9" fill="#7b3df7" textLength="62.5" lengthAdjust="spacingAndGlyphs">(SCAN-B TNBC)</text>
<circle cx="348.8" cy="443" r="21.4" fill="none" stroke="#4aaa1c" stroke-width="1.5"/>
<circle cx="372.5" cy="443" r="21.4" fill="none" stroke="#9f6dff" stroke-width="1.5"/>
<text x="334.5" y="447.64" font-size="7.6" textLength="7.7" lengthAdjust="spacingAndGlyphs">10</text>
<text x="358.5" y="447.64" font-size="7.6" textLength="4.5" lengthAdjust="spacingAndGlyphs">8</text>
<text x="370.4" y="447.64" font-size="7.6" textLength="19" lengthAdjust="spacingAndGlyphs">1,829</text>
<text x="325.1" y="474.3" font-size="8.9" textLength="79" lengthAdjust="spacingAndGlyphs">Overlap <tspan font-style="italic">P</tspan> = 1.6 × 10</text>
<text x="404.3" y="469.87" font-size="5.2" textLength="4.2" lengthAdjust="spacingAndGlyphs">-4</text>
<line x1="413.4" y1="444.2" x2="399.6" y2="444.2" stroke="#45557a" stroke-width="1.1"/>
<path d="M401.3 442L397.1 444.2L401.3 446.4L400.3 444.2Z" fill="#45557a" stroke="none" stroke-width="0"/>
<text x="409.9" y="436.4" font-size="8.9" fill="#7b3df7" textLength="64.7" lengthAdjust="spacingAndGlyphs">Hyperexpressed</text>
<text x="429.8" y="445.8" font-size="8.9" fill="#7b3df7" textLength="25" lengthAdjust="spacingAndGlyphs">genes</text>
<text x="415.8" y="454.9" font-size="8.9" fill="#7b3df7" textLength="53.2" lengthAdjust="spacingAndGlyphs">(TCGA TNBC)</text>
</g>
</svg></body></html>
